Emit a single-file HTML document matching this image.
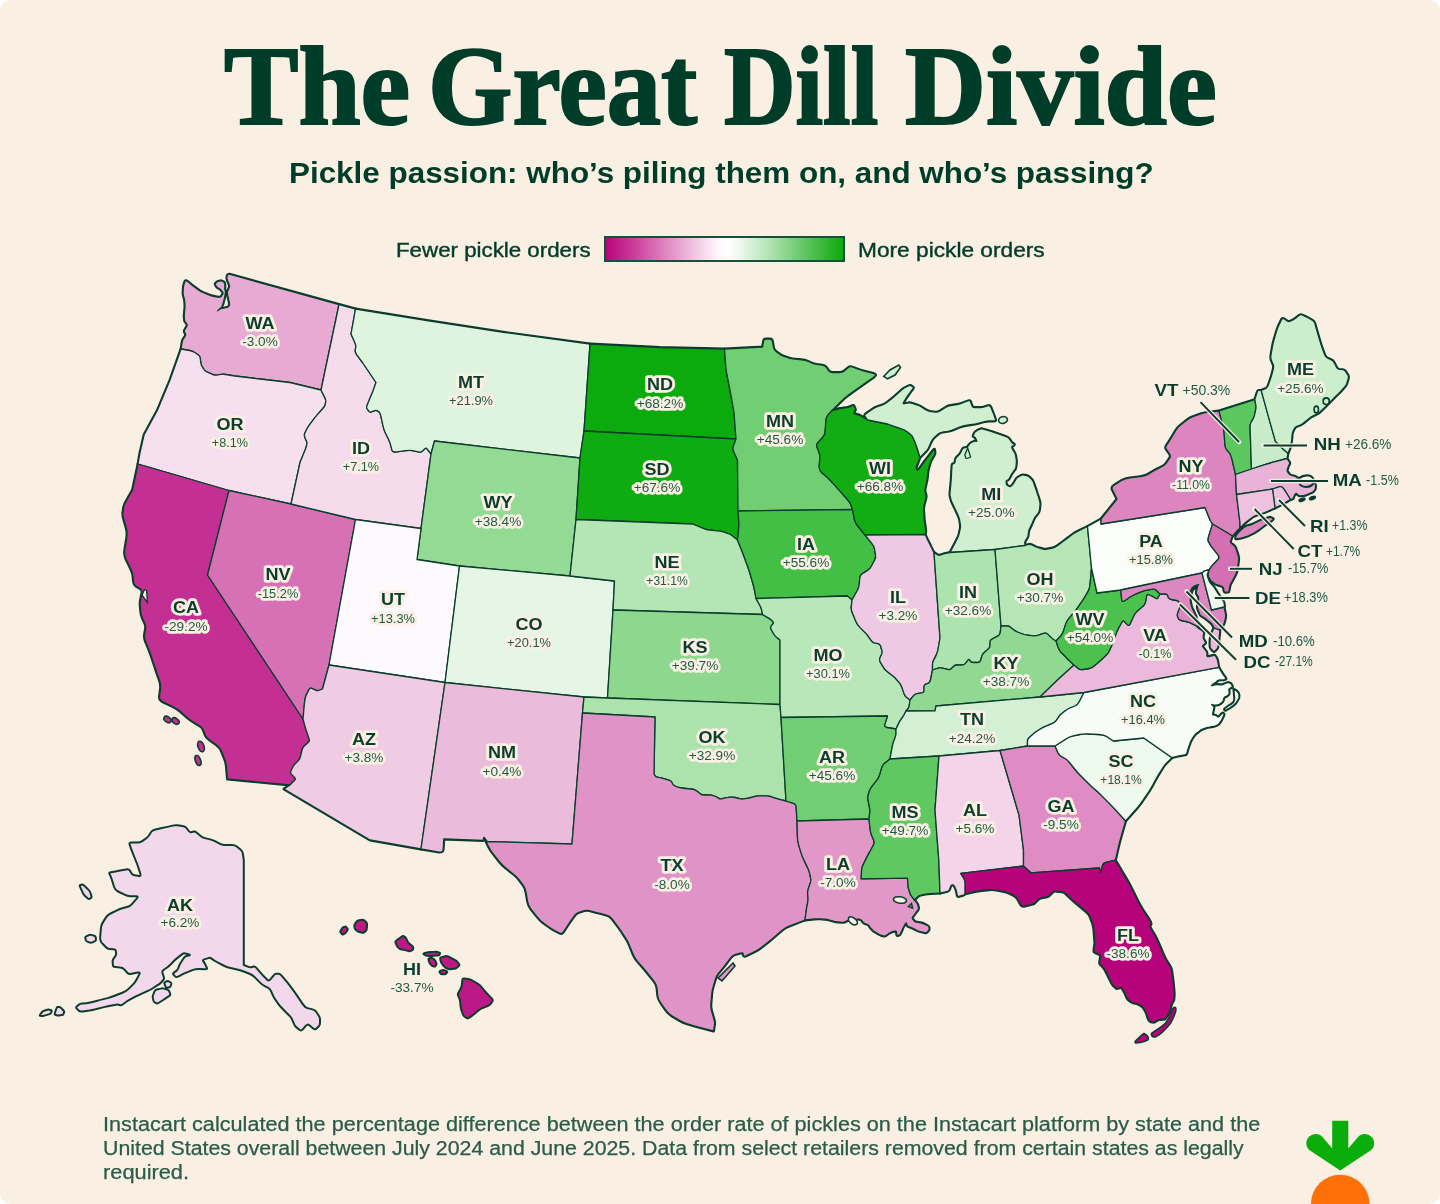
<!DOCTYPE html>
<html lang="en"><head><meta charset="utf-8"><title>The Great Dill Divide</title>
<style>
html,body{margin:0;padding:0;background:#fff;}
body{width:1440px;height:1204px;overflow:hidden;font-family:"Liberation Sans",Arial,Helvetica,sans-serif;}
.card{position:relative;width:1440px;height:1204px;background:#f9f0e3;border-radius:11px;overflow:hidden;color:#0b3d2d;}
.map{position:absolute;left:0;top:0;}
.t{position:absolute;white-space:nowrap;transform-origin:0 0;margin:0;}
h1.t{left:0;top:29.2px;width:1440px;height:113px;font-family:"Liberation Serif","Times New Roman",serif;font-weight:700;
 font-size:113px;line-height:113px;color:#003d29;-webkit-text-stroke:2.2px #003d29;}
h1.t span{position:absolute;top:0;white-space:pre;transform-origin:0 0;}
.sub{left:288.6px;top:155px;font-weight:700;font-size:30px;line-height:36px;color:#003d29;transform:scaleX(1.0465);}
.leg{top:238.2px;font-size:20px;line-height:24px;font-weight:400;color:#003d29;-webkit-text-stroke:0.4px #003d29;transform:scaleX(1.115);}
.bar{position:absolute;left:604.2px;top:236.4px;width:237.2px;height:21.2px;border:2px solid #14503a;
 background:linear-gradient(90deg,#b8057c 0%,#cb3f9b 12%,#e7a5d2 31%,#fdf6fb 47%,#ffffff 51%,#f3fbf3 55%,#b7e5b7 68%,#4fbf50 87%,#0bab0d 100%);}
.foot{left:102.5px;font-size:20px;line-height:24px;color:#2b5c49;-webkit-text-stroke:0.25px #2b5c49;}
.lab text{font-family:"Liberation Sans",Arial,sans-serif;fill:#0b3d2d;}
.lab .ab{font-weight:700;font-size:16.4px;}
.lab .va{font-weight:400;font-size:13.6px;fill:#1f5a45;}
.lab .va2{font-weight:400;font-size:14px;fill:#1f5a45;}
</style></head><body>
<div class="card">
<svg class="map" width="1440" height="1204" viewBox="0 0 1440 1204">
<g fill="#0b3d2d" stroke="#0b3d2d" stroke-width="2.9" stroke-linejoin="round">
<path d="M181.0,349.0L182.1,342.2Q182.5,340.0 183.3,338.8L185.2,336.2Q186.0,335.0 185.5,334.0L184.5,332.0Q184.0,331.0 184.8,329.6L186.7,326.4Q187.5,325.0 186.8,323.9L185.1,321.6Q184.4,320.5 184.4,319.2L184.2,316.3Q184.2,315.0 184.4,313.1L184.8,308.9Q185.0,307.0 184.9,305.4L184.8,302.1Q184.7,300.5 184.3,298.9L183.4,295.6Q183.0,294.0 183.1,292.3L183.2,288.7Q183.3,287.0 183.7,285.4L184.6,282.1Q185.0,280.5 185.5,280.6L186.7,281.0Q187.2,281.1 188.7,282.3L191.8,284.9Q193.3,286.1 195.2,287.4L199.2,290.4Q201.1,291.7 203.0,292.5L207.0,294.2Q208.9,295.0 210.6,295.5L214.4,296.5Q216.1,297.0 217.2,297.0L219.5,297.2Q220.6,297.2 221.0,296.7L221.8,295.5Q222.2,295.0 222.5,294.5L223.0,293.3Q223.3,292.8 222.5,291.9L220.8,289.8Q220.0,288.9 219.2,288.5L217.5,287.6Q216.7,287.2 216.3,286.4L215.4,284.7Q215.0,283.9 215.5,283.4L216.7,282.2Q217.2,281.7 218.1,281.4L220.2,280.9Q221.1,280.6 221.8,281.0L223.5,281.8Q224.2,282.2 224.4,282.9L224.8,284.3Q225.0,285.0 224.9,285.9L224.8,288.0Q224.7,288.9 224.9,289.6L225.4,291.0Q225.6,291.7 225.4,293.0L224.9,295.9Q224.7,297.2 224.4,298.5L223.6,301.5Q223.3,302.8 222.9,303.9L222.1,306.1Q221.7,307.2 220.6,308.1L218.3,310.2Q217.2,311.1 217.9,310.6L219.3,309.4Q220.0,308.9 220.8,308.7L222.5,308.3Q223.3,308.1 224.4,307.9L226.7,307.4Q227.8,307.2 228.3,306.7L229.2,305.5Q229.7,305.0 229.5,303.9L229.1,301.7Q228.9,300.6 228.6,299.5L228.1,297.2Q227.8,296.1 227.7,295.2L227.3,293.1Q227.2,292.2 227.6,291.3L228.5,289.2Q228.9,288.3 229.1,287.7L229.5,286.2Q229.7,285.6 229.2,284.7L228.3,282.6Q227.8,281.7 227.5,280.8L227.0,278.7Q226.7,277.8 226.9,277.1L227.3,275.4Q227.5,274.7 228.0,274.6L229.4,274.2L339.0,304.5L321.0,390.0L290.0,382.5L260.0,379.0L235.0,376.0L225.5,374.5Q222.5,374.0 220.7,374.4L216.8,375.1Q215.0,375.5 212.6,374.4L207.4,372.1Q205.0,371.0 204.0,369.6L202.0,366.4Q201.0,365.0 200.8,362.8L200.2,358.2Q200.0,356.0 198.2,354.8L194.3,352.2Q192.5,351.0 189.7,350.5Z"/>
<path d="M181.0,349.0L170.0,380.0L157.5,410.0L144.0,435.0L141.0,448.3Q140.0,452.5 139.5,455.3L138.0,464.0L229.0,490.5L291.0,504.0L300.0,462.5L305.7,448.4Q307.5,444.0 306.7,441.8L304.8,437.2Q304.0,435.0 304.8,433.2L306.7,429.3Q307.5,427.5 309.3,425.1L313.2,419.9Q315.0,417.5 317.4,414.7L322.6,408.8Q325.0,406.0 325.2,404.6L325.8,401.4Q326.0,400.0 324.8,397.6L321.0,390.0L290.0,382.5L260.0,379.0L235.0,376.0L225.5,374.5Q222.5,374.0 220.7,374.4L216.8,375.1Q215.0,375.5 212.6,374.4L207.4,372.1Q205.0,371.0 204.0,369.6L202.0,366.4Q201.0,365.0 200.8,362.8L200.2,358.2Q200.0,356.0 198.2,354.8L194.3,352.2Q192.5,351.0 189.7,350.5Z"/>
<path d="M138.0,464.0L229.0,490.5L207.5,575.0L303.0,719.0L305.3,727.4Q306.0,730.0 307.0,732.6L309.0,738.4Q310.0,741.0 308.2,742.6L304.3,745.9Q302.5,747.5 301.9,750.3L300.6,756.2Q300.0,759.0 298.6,760.4L295.4,763.6Q294.0,765.0 293.0,766.8L291.0,770.7Q290.0,772.5 291.4,774.1L294.6,777.4Q296.0,779.0 294.6,780.4L290.0,785.0L227.5,779.0L226.4,766.5Q226.0,762.5 224.6,758.9L221.4,751.1Q220.0,747.5 216.6,745.1L209.4,739.9Q206.0,737.5 205.2,735.1L203.3,729.9Q202.5,727.5 199.5,725.7L193.0,721.8Q190.0,720.0 187.0,717.4L180.5,711.6Q177.5,709.0 173.1,706.8L163.4,702.2Q159.0,700.0 159.5,696.4L160.5,688.6Q161.0,685.0 159.6,680.8L156.4,671.7Q155.0,667.5 153.8,663.9L151.2,656.1Q150.0,652.5 148.6,648.9L145.4,641.1Q144.0,637.5 144.5,634.7L145.5,628.8Q146.0,626.0 144.8,623.4L142.2,617.6Q141.0,615.0 140.8,612.0L140.2,605.5Q140.0,602.5 140.6,599.5L141.9,593.0Q142.5,590.0 140.5,588.8L136.0,586.2Q134.0,585.0 133.6,582.0L132.9,575.5Q132.5,572.5 130.5,568.3L126.0,559.2Q124.0,555.0 124.8,549.6L126.7,537.9Q127.5,532.5 126.3,528.3L123.7,519.2Q122.5,515.0 122.9,512.6L123.6,507.4Q124.0,505.0 126.0,501.4L132.5,490.0Z"/>
<path d="M229.0,490.5L291.0,504.0L355.5,519.5L329.0,665.0L322.5,689.0L318.7,690.5Q317.5,691.0 315.7,690.2L311.8,688.3Q310.0,687.5 308.8,689.9L306.2,695.1Q305.0,697.5 304.5,702.7L303.0,719.0L207.5,575.0Z"/>
<path d="M339.0,304.5L355.5,309.0L351.0,334.0L354.8,342.4Q356.0,345.0 355.8,346.8L355.2,350.7Q355.0,352.5 356.8,354.9L362.5,362.5L376.0,382.5L373.3,390.1Q372.5,392.5 370.9,396.1L367.6,403.9Q366.0,407.5 367.0,408.7L369.0,411.3Q370.0,412.5 371.4,411.9L374.6,410.6Q376.0,410.0 377.0,410.6L379.0,411.9Q380.0,412.5 381.0,416.7L383.0,425.8Q384.0,430.0 385.4,433.0L388.6,439.5Q390.0,442.5 390.6,444.9L391.9,450.1Q392.5,452.5 396.7,451.9L405.8,450.6Q410.0,450.0 412.6,450.6L418.4,451.9Q421.0,452.5 422.2,451.3L424.8,448.7Q426.0,447.5 427.2,449.1L431.0,454.0L421.0,528.5L355.5,519.5L291.0,504.0L300.0,462.5L305.7,448.4Q307.5,444.0 306.7,441.8L304.8,437.2Q304.0,435.0 304.8,433.2L306.7,429.3Q307.5,427.5 309.3,425.1L313.2,419.9Q315.0,417.5 317.4,414.7L322.6,408.8Q325.0,406.0 325.2,404.6L325.8,401.4Q326.0,400.0 324.8,397.6L321.0,390.0Z"/>
<path d="M355.5,309.0L430.0,321.0L505.0,332.5L590.0,344.0L584.0,431.0L580.0,458.0L434.5,441.0L431.0,454.0L427.2,449.1Q426.0,447.5 424.8,448.7L422.2,451.3Q421.0,452.5 418.4,451.9L412.6,450.6Q410.0,450.0 405.8,450.6L396.7,451.9Q392.5,452.5 391.9,450.1L390.6,444.9Q390.0,442.5 388.6,439.5L385.4,433.0Q384.0,430.0 383.0,425.8L381.0,416.7Q380.0,412.5 379.0,411.9L377.0,410.6Q376.0,410.0 374.6,410.6L371.4,411.9Q370.0,412.5 369.0,411.3L367.0,408.7Q366.0,407.5 367.6,403.9L370.9,396.1Q372.5,392.5 373.3,390.1L376.0,382.5L362.5,362.5L356.8,354.9Q355.0,352.5 355.2,350.7L355.8,346.8Q356.0,345.0 354.8,342.4L351.0,334.0Z"/>
<path d="M434.5,441.0L580.0,458.0L576.0,519.5L570.0,576.0L459.5,566.0L417.0,559.5L421.0,528.5L431.0,454.0Z"/>
<path d="M355.5,519.5L421.0,528.5L417.0,559.5L459.5,566.0L445.0,682.5L329.0,665.0Z"/>
<path d="M459.5,566.0L570.0,576.0L614.5,581.0L613.0,610.0L607.5,698.0L584.0,697.0L445.0,682.5Z"/>
<path d="M329.0,665.0L445.0,682.5L421.0,849.0L370.0,840.0L284.0,789.0L290.0,785.0L294.6,780.4Q296.0,779.0 294.6,777.4L291.4,774.1Q290.0,772.5 291.0,770.7L293.0,766.8Q294.0,765.0 295.4,763.6L298.6,760.4Q300.0,759.0 300.6,756.2L301.9,750.3Q302.5,747.5 304.3,745.9L308.2,742.6Q310.0,741.0 309.0,738.4L307.0,732.6Q306.0,730.0 305.3,727.4L303.0,719.0L304.5,702.7Q305.0,697.5 306.2,695.1L308.8,689.9Q310.0,687.5 311.8,688.3L315.7,690.2Q317.5,691.0 318.7,690.5L322.5,689.0Z"/>
<path d="M445.0,682.5L584.0,697.0L582.5,713.0L572.0,844.0L487.0,841.5L484.0,837.5L483.0,840.5L443.8,839.0L443.2,849.5Q443.0,852.8 437.7,851.9L421.0,849.0Z"/>
<path d="M590.0,344.0L660.0,347.5L724.5,349.0L725.6,365.0Q726.0,370.0 727.0,374.8L729.0,385.2Q730.0,390.0 731.0,395.4L734.0,412.5L736.0,439.0L584.0,431.0Z"/>
<path d="M584.0,431.0L736.0,439.0L733.3,446.6Q732.5,449.0 733.7,451.6L737.5,460.0L738.0,511.0L738.8,521.6Q739.0,525.0 738.6,528.6L737.5,540.0L731.8,535.4Q730.0,534.0 727.6,533.3L722.4,531.7Q720.0,531.0 717.0,530.8L710.5,530.2Q707.5,530.0 703.9,528.6L692.5,524.0L576.0,519.5L580.0,458.0Z"/>
<path d="M576.0,519.5L692.5,524.0L703.9,528.6Q707.5,530.0 710.5,530.2L717.0,530.8Q720.0,531.0 722.4,531.7L727.6,533.3Q730.0,534.0 731.8,535.4L737.5,540.0L741.3,549.5Q742.5,552.5 744.1,556.7L747.4,565.8Q749.0,570.0 750.2,574.2L752.8,583.3Q754.0,587.5 754.5,590.1L756.0,598.5L759.8,605.3Q761.0,607.5 761.4,609.2L762.5,614.5L613.0,610.0L614.5,581.0L570.0,576.0Z"/>
<path d="M613.0,610.0L762.5,614.5L768.2,617.9Q770.0,619.0 771.0,619.8L773.0,621.7Q774.0,622.5 773.0,623.7L771.0,626.3Q770.0,627.5 771.2,629.5L773.8,634.0Q775.0,636.0 776.2,637.0L780.0,640.0L780.0,704.5L607.5,698.0Z"/>
<path d="M607.5,698.0L780.0,704.5L781.0,717.5L786.0,801.0L778.4,799.1Q776.0,798.5 774.2,797.9L770.1,796.4Q768.3,795.8 765.5,795.8L759.5,795.8Q756.7,795.8 754.9,796.3L750.8,797.5Q749.0,798.0 747.2,798.3L743.5,798.9Q741.7,799.2 739.6,798.7L735.1,797.5Q733.0,797.0 731.5,797.1L728.2,797.4Q726.7,797.5 725.1,797.9L721.6,798.8Q720.0,799.2 718.8,798.4L716.2,796.8Q715.0,796.0 713.8,795.8L711.2,795.2Q710.0,795.0 708.0,795.0L703.7,795.0Q701.7,795.0 700.6,794.0L698.1,792.0Q697.0,791.0 696.1,790.6L694.2,789.6Q693.3,789.2 690.9,789.0L685.7,788.5Q683.3,788.3 681.8,788.0L678.5,787.3Q677.0,787.0 676.1,786.5L674.2,785.5Q673.3,785.0 672.7,784.0L671.6,782.0Q671.0,781.0 670.4,780.8L668.9,780.2Q668.3,780.0 666.3,779.4L662.0,778.1Q660.0,777.5 659.0,777.4L657.0,777.1Q656.0,777.0 655.5,776.3L654.0,774.0L655.0,717.0L582.5,713.0L584.0,697.0Z"/>
<path d="M582.5,713.0L655.0,717.0L654.0,774.0L655.5,776.3Q656.0,777.0 657.0,777.1L659.0,777.4Q660.0,777.5 662.0,778.1L666.3,779.4Q668.3,780.0 668.9,780.2L670.4,780.8Q671.0,781.0 671.6,782.0L672.7,784.0Q673.3,785.0 674.2,785.5L676.1,786.5Q677.0,787.0 678.5,787.3L681.8,788.0Q683.3,788.3 685.7,788.5L690.9,789.0Q693.3,789.2 694.2,789.6L696.1,790.6Q697.0,791.0 698.1,792.0L700.6,794.0Q701.7,795.0 703.7,795.0L708.0,795.0Q710.0,795.0 711.2,795.2L713.8,795.8Q715.0,796.0 716.2,796.8L718.8,798.4Q720.0,799.2 721.6,798.8L725.1,797.9Q726.7,797.5 728.2,797.4L731.5,797.1Q733.0,797.0 735.1,797.5L739.6,798.7Q741.7,799.2 743.5,798.9L747.2,798.3Q749.0,798.0 750.8,797.5L754.9,796.3Q756.7,795.8 759.5,795.8L765.5,795.8Q768.3,795.8 770.1,796.4L774.2,797.9Q776.0,798.5 778.4,799.1L786.0,801.0L793.6,803.3Q796.0,804.0 796.2,808.1L797.0,821.0L797.4,836.2Q797.5,841.0 798.6,844.6L800.9,852.4Q802.0,856.0 803.6,859.4L807.1,866.6Q808.8,870.0 809.4,872.4L810.6,877.6Q811.2,880.0 810.4,882.7L808.4,888.5Q807.5,891.2 807.6,893.4L808.0,897.9Q808.1,900.0 807.7,902.4L806.7,907.6Q806.2,910.0 806.0,912.4L805.0,920.0L789.8,925.9Q785.0,927.7 782.2,930.2L776.1,935.5Q773.3,938.0 769.8,940.8L762.2,946.8Q758.8,949.6 755.2,951.4L747.5,955.2Q744.0,957.0 743.7,955.9L743.0,953.6Q742.7,952.5 740.3,953.2L734.9,954.7Q732.5,955.4 730.4,958.2L725.9,964.2Q723.8,967.0 722.0,969.1L718.2,973.7Q716.5,975.8 715.4,979.3L713.1,986.9Q712.0,990.4 711.7,994.6L710.9,1003.8Q710.6,1008.0 711.7,1011.5L713.9,1019.0Q715.0,1022.5 714.6,1024.5L713.5,1031.0L701.3,1027.9Q697.5,1026.9 694.0,1025.8L686.5,1023.6Q683.0,1022.5 679.5,1020.4L671.8,1015.9Q668.3,1013.8 665.8,1010.2L660.5,1002.5Q658.0,999.0 657.7,995.5L657.0,988.1Q656.7,984.6 653.9,981.1L647.8,973.5Q645.0,970.0 642.6,967.2L637.2,961.1Q634.8,958.3 633.0,954.1L629.3,945.0Q627.5,940.8 625.4,937.7L620.9,930.8Q618.8,927.7 616.6,924.9L612.1,918.8Q610.0,916.0 607.2,915.3L601.1,913.7Q598.3,913.0 595.5,912.3L589.5,910.7Q586.7,910.0 584.3,910.7L578.9,912.3Q576.5,913.0 574.7,915.5L570.8,920.8Q569.0,923.3 567.3,926.0L563.6,931.7Q561.9,934.4 559.5,933.1L554.1,930.3Q551.7,929.0 548.9,926.9L542.8,922.5Q540.0,920.4 537.2,916.9L531.1,909.3Q528.3,905.8 527.6,901.6L526.1,892.5Q525.4,888.3 523.3,885.5L518.8,879.5Q516.7,876.7 513.2,873.9L505.5,867.8Q502.0,865.0 499.2,861.5L493.2,853.9Q490.4,850.4 488.9,847.3L484.0,837.5L487.0,841.5L572.0,844.0Z"/>
<path d="M724.5,349.0L762.5,347.0L763.6,340.9Q764.0,339.0 765.9,339.0L770.1,339.0Q772.0,339.0 772.5,341.6L773.5,347.4Q774.0,350.0 776.0,351.4L780.5,354.6Q782.5,356.0 784.9,356.7L790.1,358.3Q792.5,359.0 795.5,359.2L802.0,359.8Q805.0,360.0 807.2,361.0L811.8,363.0Q814.0,364.0 816.6,364.4L822.4,365.1Q825.0,365.5 826.2,367.2L828.8,370.8Q830.0,372.5 833.0,372.5L839.5,372.5Q842.5,372.5 844.3,370.9L848.2,367.6Q850.0,366.0 852.4,367.0L857.6,369.0Q860.0,370.0 864.2,371.1L873.3,373.4Q877.5,374.5 873.9,377.0L866.1,382.5Q862.5,385.0 858.3,388.0L849.2,394.5Q845.0,397.5 841.9,400.6L832.0,410.5L827.4,415.8Q826.0,417.5 825.8,421.7L825.2,430.8Q825.0,435.0 822.8,437.3L818.2,442.2Q816.0,444.5 817.0,447.0L819.0,452.5Q820.0,455.0 819.8,458.6L819.2,466.4Q819.0,470.0 821.6,472.4L827.4,477.6Q830.0,480.0 833.0,483.4L839.5,490.6Q842.5,494.0 844.3,496.0L848.2,500.5Q850.0,502.5 850.6,504.2L852.5,509.5L738.0,511.0L737.5,460.0L733.7,451.6Q732.5,449.0 733.3,446.6L736.0,439.0L734.0,412.5L731.0,395.4Q730.0,390.0 729.0,385.2L727.0,374.8Q726.0,370.0 725.6,365.0Z"/>
<path d="M738.0,511.0L852.5,509.5L854.4,519.4Q855.0,522.5 857.4,525.5L865.0,535.0L871.8,543.4Q874.0,546.0 874.5,548.8L875.5,554.7Q876.0,557.5 874.6,560.3L871.4,566.2Q870.0,569.0 867.6,570.4L862.4,573.6Q860.0,575.0 859.8,578.0L859.2,584.5Q859.0,587.5 857.3,590.5L852.0,600.0L847.5,596.0L756.0,598.5L754.5,590.1Q754.0,587.5 752.8,583.3L750.2,574.2Q749.0,570.0 747.4,565.8L744.1,556.7Q742.5,552.5 741.3,549.5L737.5,540.0L738.6,528.6Q739.0,525.0 738.8,521.6Z"/>
<path d="M756.0,598.5L847.5,596.0L852.0,600.0L851.2,607.6Q851.0,610.0 852.6,613.6L855.9,621.4Q857.5,625.0 859.9,627.4L865.1,632.6Q867.5,635.0 868.7,636.8L871.3,640.7Q872.5,642.5 874.3,642.9L878.2,643.6Q880.0,644.0 880.6,646.0L881.9,650.5Q882.5,652.5 881.7,654.3L879.8,658.2Q879.0,660.0 880.4,662.4L883.6,667.6Q885.0,670.0 887.4,671.8L892.6,675.7Q895.0,677.5 896.4,679.3L899.6,683.2Q901.0,685.0 902.0,687.6L904.0,693.4Q905.0,696.0 906.2,697.0L910.0,700.0L909.2,705.7Q909.0,707.5 908.3,708.3L906.0,711.0L904.5,714.0Q904.0,715.0 902.8,716.8L900.2,720.7Q899.0,722.5 898.3,724.1L896.0,729.0L886.9,727.5Q884.0,727.0 884.8,724.4L887.5,716.0L781.0,717.5L780.0,704.5L780.0,640.0L776.2,637.0Q775.0,636.0 773.8,634.0L771.2,629.5Q770.0,627.5 771.0,626.3L773.0,623.7Q774.0,622.5 773.0,621.7L771.0,619.8Q770.0,619.0 768.2,617.9L762.5,614.5L761.4,609.2Q761.0,607.5 759.8,605.3Z"/>
<path d="M781.0,717.5L887.5,716.0L884.8,724.4Q884.0,727.0 886.9,727.5L896.0,729.0L896.0,733.6Q896.0,735.0 895.2,737.4L893.3,742.6Q892.5,745.0 891.9,748.4L890.0,759.0L884.3,763.6Q882.5,765.0 881.7,768.0L879.8,774.5Q879.0,777.5 876.8,780.3L872.2,786.2Q870.0,789.0 869.4,791.0L868.1,795.5Q867.5,797.5 868.1,800.5L869.4,807.0Q870.0,810.0 869.8,812.2L869.0,819.0L797.0,821.0L796.2,808.1Q796.0,804.0 793.6,803.3L786.0,801.0Z"/>
<path d="M797.0,821.0L869.0,819.0L870.1,829.3Q870.4,832.5 871.5,834.9L873.7,840.3Q874.8,842.7 873.0,845.8L869.3,852.7Q867.5,855.8 866.1,858.6L863.1,864.7Q861.7,867.5 861.6,870.2L861.2,878.8L907.5,878.1L908.0,885.2Q908.1,887.5 908.7,889.3L910.0,893.2Q910.6,895.0 911.5,896.2L914.4,900.0L916.8,902.9Q917.5,903.8 917.8,905.0L918.5,907.5Q918.8,908.8 917.9,910.0L915.9,912.5Q915.0,913.8 914.3,914.8L912.6,917.1Q911.9,918.1 912.6,919.0L914.3,921.0Q915.0,921.9 916.8,922.2L920.7,922.8Q922.5,923.1 924.0,923.9L927.2,925.5Q928.8,926.2 928.9,927.0L929.2,928.6Q929.4,929.4 928.6,930.3L927.0,932.2Q926.2,933.1 924.5,932.7L920.5,931.7Q918.8,931.2 917.2,930.5L914.0,928.9Q912.5,928.1 911.3,927.7L908.7,926.7Q907.5,926.2 907.2,925.4L906.5,923.4Q906.2,922.5 905.5,923.7L903.9,926.3Q903.1,927.5 902.4,929.3L900.7,933.2Q900.0,935.0 899.3,935.1L897.6,935.5Q896.9,935.6 896.7,934.4L896.4,931.8Q896.2,930.6 894.8,931.1L891.5,932.0Q890.0,932.5 888.8,933.4L886.2,935.4Q885.0,936.2 883.8,936.0L881.2,935.3Q880.0,935.0 878.5,934.1L875.2,932.1Q873.8,931.2 872.9,930.4L870.9,928.4Q870.0,927.5 869.7,926.9L869.0,925.6Q868.8,925.0 867.5,924.5L865.0,923.6Q863.8,923.1 863.1,922.4L861.9,920.7Q861.2,920.0 860.4,919.7L858.4,919.0Q857.5,918.8 856.6,919.5L854.6,921.1Q853.8,921.9 852.5,921.4L850.0,920.5Q848.8,920.0 847.5,920.6L845.0,921.9Q843.8,922.5 842.0,922.4L838.0,922.0Q836.2,921.9 834.1,921.3L829.6,920.0Q827.5,919.4 825.1,919.2L819.9,918.9Q817.5,918.8 814.5,919.0L805.0,920.0L806.0,912.4Q806.2,910.0 806.7,907.6L807.7,902.4Q808.1,900.0 808.0,897.9L807.6,893.4Q807.5,891.2 808.4,888.5L810.4,882.7Q811.2,880.0 810.6,877.6L809.4,872.4Q808.8,870.0 807.1,866.6L803.6,859.4Q802.0,856.0 800.9,852.4L798.6,844.6Q797.5,841.0 797.4,836.2Z"/>
<path d="M832.0,410.5L838.1,409.0Q840.0,408.5 842.0,408.3L846.3,407.7Q848.3,407.5 849.5,406.9L852.3,405.6Q853.5,405.0 854.0,406.1L855.1,408.5Q855.6,409.6 855.1,410.5L854.0,412.6Q853.5,413.5 854.8,413.8L857.5,414.5Q858.8,414.8 860.9,416.0L867.5,420.0L887.5,424.0L900.8,428.6Q905.0,430.0 906.8,431.4L910.7,434.6Q912.5,436.0 913.3,438.2L915.2,442.8Q916.0,445.0 917.0,448.0L920.0,457.5L917.0,465.1Q916.0,467.5 916.4,468.3L917.1,470.2Q917.5,471.0 919.9,467.8L925.1,460.7Q927.5,457.5 929.2,455.3L932.8,450.7Q934.5,448.5 934.6,449.7L935.0,452.5Q935.1,453.7 934.1,455.4L932.0,459.0Q931.0,460.7 930.3,462.9L928.8,467.8Q928.1,470.0 927.8,472.5L927.3,478.0Q927.0,480.5 926.4,482.7L925.3,487.6Q924.7,489.8 925.1,491.5L926.0,495.0Q926.4,496.7 925.7,499.2L924.2,504.7Q923.5,507.2 923.6,510.0L924.0,516.0Q924.1,518.8 924.5,521.6L925.4,527.7Q925.8,530.5 925.7,531.5L925.2,534.5L865.0,535.0L857.4,525.5Q855.0,522.5 854.4,519.4L852.5,509.5L850.6,504.2Q850.0,502.5 848.2,500.5L844.3,496.0Q842.5,494.0 839.5,490.6L833.0,483.4Q830.0,480.0 827.4,477.6L821.6,472.4Q819.0,470.0 819.2,466.4L819.8,458.6Q820.0,455.0 819.0,452.5L817.0,447.0Q816.0,444.5 818.2,442.2L822.8,437.3Q825.0,435.0 825.2,430.8L825.8,421.7Q826.0,417.5 827.4,415.8Z"/>
<path d="M865.0,535.0L925.2,534.5L926.6,537.6Q927.0,538.6 927.8,540.3L929.7,543.9Q930.5,545.6 931.3,547.3L934.0,552.6L940.0,638.0L938.1,649.0Q937.5,652.5 936.3,654.9L933.7,660.1Q932.5,662.5 932.5,664.3L932.5,670.0L930.6,679.5Q930.0,682.5 928.6,683.1L925.4,684.4Q924.0,685.0 924.0,686.8L924.0,690.7Q924.0,692.5 921.8,692.9L917.2,693.6Q915.0,694.0 913.8,695.4L910.0,700.0L906.2,697.0Q905.0,696.0 904.0,693.4L902.0,687.6Q901.0,685.0 899.6,683.2L896.4,679.3Q895.0,677.5 892.6,675.7L887.4,671.8Q885.0,670.0 883.6,667.6L880.4,662.4Q879.0,660.0 879.8,658.2L881.7,654.3Q882.5,652.5 881.9,650.5L880.6,646.0Q880.0,644.0 878.2,643.6L874.3,642.9Q872.5,642.5 871.3,640.7L868.7,636.8Q867.5,635.0 865.1,632.6L859.9,627.4Q857.5,625.0 855.9,621.4L852.6,613.6Q851.0,610.0 851.2,607.6L852.0,600.0L857.3,590.5Q859.0,587.5 859.2,584.5L859.8,578.0Q860.0,575.0 862.4,573.6L867.6,570.4Q870.0,569.0 871.4,566.2L874.6,560.3Q876.0,557.5 875.5,554.7L874.5,548.8Q874.0,546.0 871.8,543.4Z"/>
<path d="M981.6,428.7L987.8,430.4Q989.8,431.0 992.0,431.7L996.9,433.3Q999.1,434.0 1001.3,434.8L1006.2,436.6Q1008.4,437.4 1009.2,438.7L1011.1,441.4Q1011.9,442.7 1012.6,443.1L1014.1,444.0Q1014.8,444.4 1014.0,445.1L1012.1,446.6Q1011.3,447.3 1012.3,448.8L1014.3,452.2Q1015.3,453.7 1015.6,455.4L1016.2,459.0Q1016.5,460.7 1016.4,462.5L1016.0,466.5Q1015.9,468.3 1014.9,469.5L1012.9,472.3Q1011.9,473.5 1011.2,474.9L1009.7,477.9Q1009.0,479.3 1008.3,479.7L1006.7,480.6Q1006.0,481.0 1006.1,482.0L1006.5,484.1Q1006.6,485.1 1007.4,485.5L1009.3,486.5Q1010.1,486.9 1010.8,486.3L1012.3,485.1Q1013.0,484.5 1013.8,483.0L1015.7,479.6Q1016.5,478.1 1017.9,477.3L1020.9,475.5Q1022.3,474.7 1023.7,475.0L1026.7,475.5Q1028.1,475.8 1029.2,476.9L1031.7,479.4Q1032.8,480.5 1033.5,482.4L1035.0,486.7Q1035.7,488.6 1036.3,490.3L1037.4,493.9Q1038.0,495.6 1038.6,497.4L1039.7,501.3Q1040.3,503.1 1040.0,505.2L1039.5,509.8Q1039.2,511.9 1038.1,513.3L1035.6,516.3Q1034.5,517.7 1033.8,519.4L1032.3,523.0Q1031.6,524.7 1030.9,526.1L1029.4,529.1Q1028.7,530.5 1028.6,531.9L1028.2,534.9Q1028.1,536.3 1027.3,537.7L1025.5,540.7Q1024.7,542.1 1024.8,542.9L1025.0,545.5L995.0,549.5L950.0,552.5L953.7,545.5Q954.9,543.3 955.7,541.6L957.6,538.0Q958.4,536.3 959.0,534.1L960.1,529.2Q960.7,527.0 960.4,525.0L959.8,520.8Q959.5,518.8 958.7,516.9L956.8,512.6Q956.0,510.7 954.9,508.5L952.5,503.6Q951.4,501.4 951.0,499.7L950.1,496.1Q949.7,494.4 950.0,492.2L950.5,487.3Q950.8,485.1 950.9,482.9L951.3,478.0Q951.4,475.8 951.5,473.0L951.9,467.0Q952.0,464.2 952.7,463.9L954.2,463.3Q954.9,463.0 955.0,461.9L955.4,459.5Q955.5,458.4 956.6,457.3L959.0,454.8Q960.1,453.7 960.8,452.3L962.3,449.3Q963.0,447.9 964.0,447.8L966.1,447.4Q967.1,447.3 967.8,446.3L969.3,444.3Q970.0,443.3 971.1,442.7L973.6,441.5Q974.7,440.9 975.3,441.0L976.4,441.4Q977.0,441.5 976.6,440.5L975.6,438.4Q975.2,437.4 974.6,437.1L973.5,436.6Q972.9,436.3 973.3,435.3L974.3,433.2Q974.7,432.2 975.5,431.6L978.1,429.9ZM867.5,420.0L864.8,416.2Q864.0,415.0 866.6,413.2L872.4,409.3Q875.0,407.5 877.4,406.7L882.6,404.8Q885.0,404.0 887.4,402.1L892.6,397.9Q895.0,396.0 896.8,394.3L900.7,390.7Q902.5,389.0 904.3,388.0L908.2,386.0Q910.0,385.0 911.0,385.6L913.0,386.9Q914.0,387.5 912.4,389.5L909.1,394.0Q907.5,396.0 906.3,397.9L903.7,402.1Q902.5,404.0 904.3,403.6L908.2,402.9Q910.0,402.5 912.4,403.3L917.6,405.2Q920.0,406.0 921.8,407.2L925.7,409.8Q927.5,411.0 929.9,411.4L935.1,412.1Q937.5,412.5 939.9,410.9L945.1,407.6Q947.5,406.0 950.5,405.5L957.0,404.5Q960.0,404.0 962.4,403.0L967.6,401.0Q970.0,400.0 970.6,401.8L971.9,405.7Q972.5,407.5 974.9,407.5L980.1,407.5Q982.5,407.5 984.3,406.9L988.2,405.6Q990.0,405.0 991.0,407.4L993.0,412.6Q994.0,415.0 994.5,416.4L995.5,419.6Q996.0,421.0 994.0,421.0L989.5,421.0Q987.5,421.0 984.5,421.7L978.0,423.3Q975.0,424.0 972.0,424.5L965.5,425.5Q962.5,426.0 959.5,427.2L953.0,429.8Q950.0,431.0 947.6,431.4L942.4,432.1Q940.0,432.5 938.2,434.1L934.3,437.4Q932.5,439.0 931.3,441.6L928.7,447.4Q927.5,450.0 925.7,451.8L920.0,457.5L917.0,448.0Q916.0,445.0 915.2,442.8L913.3,438.2Q912.5,436.0 910.7,434.6L906.8,431.4Q905.0,430.0 900.8,428.6L887.5,424.0Z"/>
<path d="M934.0,552.6L937.5,554.8Q938.6,555.5 940.0,555.1L943.0,554.1Q944.4,553.7 945.7,553.4L950.0,552.5L995.0,549.5L1001.0,626.0L1000.2,632.8Q1000.0,635.0 997.6,636.2L992.4,638.8Q990.0,640.0 990.0,641.8L990.0,645.7Q990.0,647.5 988.2,649.1L984.3,652.4Q982.5,654.0 981.9,656.0L980.6,660.5Q980.0,662.5 977.8,662.5L973.2,662.5Q971.0,662.5 970.5,661.7L969.5,659.8Q969.0,659.0 967.8,660.4L965.2,663.6Q964.0,665.0 961.8,665.0L957.2,665.0Q955.0,665.0 953.8,666.2L951.2,668.8Q950.0,670.0 947.6,669.4L942.4,668.1Q940.0,667.5 938.2,668.1L932.5,670.0L932.5,664.3Q932.5,662.5 933.7,660.1L936.3,654.9Q937.5,652.5 938.1,649.0L940.0,638.0Z"/>
<path d="M995.0,549.5L1025.0,545.5L1028.8,544.4Q1030.0,544.0 1031.8,544.8L1035.7,546.7Q1037.5,547.5 1039.3,548.0L1043.2,549.0Q1045.0,549.5 1047.4,549.0L1052.6,548.0Q1055.0,547.5 1057.4,545.7L1062.6,541.8Q1065.0,540.0 1067.4,538.2L1072.6,534.3Q1075.0,532.5 1078.0,531.1L1087.5,526.5L1091.5,568.0L1090.1,584.0Q1089.6,589.0 1088.0,591.6L1084.6,597.4Q1083.0,600.0 1081.3,602.4L1077.7,607.6Q1076.0,610.0 1073.8,612.6L1068.9,618.4Q1066.7,621.0 1065.7,624.1L1063.5,630.9Q1062.5,634.0 1060.9,635.7L1056.0,641.0L1053.3,639.5Q1052.5,639.0 1050.9,637.4L1047.6,634.1Q1046.0,632.5 1043.6,633.3L1038.4,635.2Q1036.0,636.0 1033.4,635.8L1027.6,635.2Q1025.0,635.0 1022.6,634.0L1017.4,632.0Q1015.0,631.0 1013.6,629.8L1010.4,627.2Q1009.0,626.0 1007.1,626.0L1001.0,626.0Z"/>
<path d="M910.0,700.0L913.8,695.4Q915.0,694.0 917.2,693.6L921.8,692.9Q924.0,692.5 924.0,690.7L924.0,686.8Q924.0,685.0 925.4,684.4L928.6,683.1Q930.0,682.5 930.6,679.5L932.5,670.0L938.2,668.1Q940.0,667.5 942.4,668.1L947.6,669.4Q950.0,670.0 951.2,668.8L953.8,666.2Q955.0,665.0 957.2,665.0L961.8,665.0Q964.0,665.0 965.2,663.6L967.8,660.4Q969.0,659.0 969.5,659.8L970.5,661.7Q971.0,662.5 973.2,662.5L977.8,662.5Q980.0,662.5 980.6,660.5L981.9,656.0Q982.5,654.0 984.3,652.4L988.2,649.1Q990.0,647.5 990.0,645.7L990.0,641.8Q990.0,640.0 992.4,638.8L997.6,636.2Q1000.0,635.0 1000.2,632.8L1001.0,626.0L1007.1,626.0Q1009.0,626.0 1010.4,627.2L1013.6,629.8Q1015.0,631.0 1017.4,632.0L1022.6,634.0Q1025.0,635.0 1027.6,635.2L1033.4,635.8Q1036.0,636.0 1038.4,635.2L1043.6,633.3Q1046.0,632.5 1047.6,634.1L1050.9,637.4Q1052.5,639.0 1053.3,639.5L1056.0,641.0L1058.3,647.8Q1059.0,650.0 1061.0,652.2L1065.5,656.8Q1067.5,659.0 1069.1,660.4L1074.0,665.0L1057.5,680.0L1040.0,697.0L936.0,706.0L935.0,710.8L906.0,711.0L908.3,708.3Q909.0,707.5 909.2,705.7Z"/>
<path d="M906.0,711.0L935.0,710.8L936.0,706.0L1040.0,697.0L1084.0,692.5L1079.1,702.0Q1077.5,705.0 1075.1,706.0L1069.9,708.0Q1067.5,709.0 1065.7,710.4L1061.8,713.6Q1060.0,715.0 1058.8,716.8L1056.2,720.7Q1055.0,722.5 1052.0,723.7L1045.5,726.3Q1042.5,727.5 1040.7,728.7L1036.8,731.3Q1035.0,732.5 1033.2,734.1L1029.3,737.4Q1027.5,739.0 1027.5,740.7L1027.5,746.0L1000.0,750.5L939.0,756.0L890.0,759.0L891.9,748.4Q892.5,745.0 893.3,742.6L895.2,737.4Q896.0,735.0 896.0,733.6L896.0,729.0L898.3,724.1Q899.0,722.5 900.2,720.7L902.8,716.8Q904.0,715.0 904.5,714.0Z"/>
<path d="M890.0,759.0L939.0,756.0L935.0,810.0L938.8,860.0L940.0,893.1L930.5,893.6Q927.5,893.8 925.4,894.2L920.9,895.2Q918.8,895.6 917.7,896.7L914.4,900.0L911.5,896.2Q910.6,895.0 910.0,893.2L908.7,889.3Q908.1,887.5 908.0,885.2L907.5,878.1L861.2,878.8L861.6,870.2Q861.7,867.5 863.1,864.7L866.1,858.6Q867.5,855.8 869.3,852.7L873.0,845.8Q874.8,842.7 873.7,840.3L871.5,834.9Q870.4,832.5 870.1,829.3L869.0,819.0L869.8,812.2Q870.0,810.0 869.4,807.0L868.1,800.5Q867.5,797.5 868.1,795.5L869.4,791.0Q870.0,789.0 872.2,786.2L876.8,780.3Q879.0,777.5 879.8,774.5L881.7,768.0Q882.5,765.0 884.3,763.6Z"/>
<path d="M939.0,756.0L1000.0,750.5L1019.0,815.0L1023.5,850.0L1023.5,866.0L960.8,873.3L964.1,878.8Q965.2,880.6 965.2,883.8L965.2,893.8L964.1,894.7Q963.8,895.0 962.2,895.5L959.0,896.4Q957.5,896.9 957.2,895.2L956.5,891.7Q956.2,890.0 955.6,888.8L954.4,886.2Q953.8,885.0 953.1,885.0L951.9,885.0Q951.2,885.0 950.6,886.5L949.4,889.8Q948.8,891.2 946.6,891.7L940.0,893.1L938.8,860.0L935.0,810.0Z"/>
<path d="M1000.0,750.5L1027.5,746.0L1055.0,746.0L1058.0,752.8Q1059.0,755.0 1061.0,756.2L1065.5,758.8Q1067.5,760.0 1069.9,763.0L1075.1,769.5Q1077.5,772.5 1080.5,775.5L1087.0,782.0Q1090.0,785.0 1092.4,787.2L1097.6,791.8Q1100.0,794.0 1102.9,796.9L1109.1,803.1Q1112.0,806.0 1115.3,809.6L1125.6,821.0L1121.2,836.4Q1119.8,841.2 1118.7,845.8L1115.4,860.2L1106.0,862.3Q1103.0,863.0 1102.5,865.5L1101.3,870.8Q1100.8,873.3 1100.5,872.0L1099.4,868.0L1030.8,872.8L1023.5,866.0L1023.5,850.0L1019.0,815.0Z"/>
<path d="M965.2,893.8L965.2,883.8Q965.2,880.6 964.1,878.8L960.8,873.3L1023.5,866.0L1030.8,872.8L1099.4,868.0L1100.5,872.0Q1100.8,873.3 1101.3,870.8L1102.5,865.5Q1103.0,863.0 1106.0,862.3L1115.4,860.2L1118.7,865.7Q1119.8,867.5 1122.2,871.7L1127.6,880.8Q1130.0,885.0 1132.4,889.9L1137.6,900.5Q1140.0,905.4 1142.8,909.7L1148.8,918.9Q1151.6,923.2 1151.1,924.0L1150.1,925.8Q1149.6,926.6 1151.2,929.2L1154.7,934.9Q1156.2,937.5 1158.3,942.4L1162.9,953.1Q1165.0,958.0 1166.5,960.5L1169.9,965.8Q1171.4,968.3 1171.8,971.3L1172.7,977.8Q1173.1,980.8 1173.4,983.8L1174.0,990.2Q1174.3,993.2 1174.2,994.8L1174.0,998.3Q1173.9,999.9 1173.3,1001.0L1172.0,1003.4Q1171.4,1004.5 1171.0,1006.2L1170.2,1009.8Q1169.8,1011.5 1169.0,1012.9L1167.2,1015.9Q1166.4,1017.3 1166.0,1017.7L1165.2,1018.6Q1164.8,1019.0 1163.2,1019.2L1159.7,1019.6Q1158.1,1019.8 1157.1,1020.4L1154.0,1022.3L1150.8,1021.7Q1149.8,1021.5 1149.3,1020.7L1148.3,1018.9Q1147.8,1018.1 1147.5,1016.9L1146.8,1014.4Q1146.5,1013.2 1145.7,1011.8L1144.0,1008.7Q1143.2,1007.3 1142.0,1006.5L1139.4,1004.8Q1138.2,1004.0 1136.6,1003.6L1133.2,1002.8Q1131.6,1002.4 1130.6,1001.6L1128.4,999.8Q1127.4,999.0 1126.8,997.6L1125.5,994.6Q1124.9,993.2 1124.1,991.8L1122.4,988.8Q1121.6,987.4 1120.4,987.7L1117.8,988.4Q1116.6,988.7 1115.6,987.8L1113.5,985.8Q1112.5,984.9 1111.5,982.9L1109.3,978.6Q1108.3,976.6 1107.3,974.6L1105.2,970.3Q1104.2,968.3 1103.0,967.2L1100.6,964.8Q1099.4,963.8 1099.7,961.6L1100.5,957.1Q1100.8,955.0 1099.0,954.3L1095.3,952.7Q1093.5,952.0 1093.9,949.9L1094.6,945.4Q1095.0,943.3 1094.6,939.1L1093.9,930.0Q1093.5,925.8 1092.4,923.0L1090.1,916.8Q1089.0,914.0 1086.9,912.3L1082.5,908.6Q1080.4,906.9 1078.3,905.1L1073.8,901.4Q1071.7,899.6 1069.9,897.8L1066.2,894.1Q1064.4,892.3 1061.9,891.9L1056.5,891.2Q1054.0,890.8 1052.6,892.2L1049.7,895.3Q1048.3,896.7 1046.2,897.0L1041.7,897.7Q1039.6,898.0 1038.2,899.4L1035.2,902.6Q1033.8,904.0 1030.9,904.7L1024.8,906.2Q1022.0,906.9 1020.6,904.5L1017.6,899.1Q1016.2,896.7 1014.1,895.6L1009.6,893.4Q1007.5,892.3 1004.0,891.6L996.5,890.1Q993.0,889.4 989.5,889.7L981.8,890.5Q978.3,890.8 975.2,891.5Z"/>
<path d="M1055.0,746.0L1065.5,739.2Q1068.8,737.0 1072.2,736.2L1079.6,734.5Q1083.0,733.8 1088.0,734.0L1099.0,734.5Q1104.0,734.8 1106.3,736.3L1113.5,741.0L1143.8,738.0L1172.0,757.7L1166.4,763.2Q1164.6,765.0 1163.0,767.5L1159.6,772.9Q1158.0,775.4 1156.1,778.9L1151.9,786.5Q1150.0,790.0 1147.3,793.9L1141.5,802.4Q1138.8,806.2 1135.6,809.8L1125.6,821.0L1115.3,809.6Q1112.0,806.0 1109.1,803.1L1102.9,796.9Q1100.0,794.0 1097.6,791.8L1092.4,787.2Q1090.0,785.0 1087.0,782.0L1080.5,775.5Q1077.5,772.5 1075.1,769.5L1069.9,763.0Q1067.5,760.0 1065.5,758.8L1061.0,756.2Q1059.0,755.0 1058.0,752.8Z"/>
<path d="M1084.0,692.5L1218.8,667.4L1221.8,672.3Q1222.8,673.9 1223.6,675.1L1225.5,677.7Q1226.3,678.9 1225.7,679.1L1224.4,679.7Q1223.8,679.9 1222.6,679.9L1220.0,679.9Q1218.8,679.9 1217.8,680.6L1215.8,682.2Q1214.8,682.9 1213.8,683.6L1211.8,685.2Q1210.8,685.9 1212.0,685.5L1214.6,684.8Q1215.8,684.4 1217.2,684.5L1220.4,684.8Q1221.8,684.9 1223.2,684.3L1226.4,683.0Q1227.8,682.4 1228.5,682.6L1230.1,683.2Q1230.8,683.4 1231.3,684.2L1232.3,686.1Q1232.8,686.9 1231.8,687.4L1229.8,688.4Q1228.8,688.9 1228.9,690.1L1229.2,692.7Q1229.3,693.9 1228.7,694.5L1227.4,695.8Q1226.8,696.4 1226.2,696.5L1224.9,696.8Q1224.3,696.9 1223.9,698.1L1223.2,700.6Q1222.8,701.8 1221.8,702.5L1219.8,704.1Q1218.8,704.8 1217.7,704.9L1215.4,705.2Q1214.3,705.3 1213.6,705.1L1212.0,704.5Q1211.3,704.3 1212.0,704.9L1213.6,706.2Q1214.3,706.8 1213.8,708.7L1212.8,712.9Q1212.3,714.8 1213.1,714.9L1215.0,715.2Q1215.8,715.3 1216.4,715.8L1217.7,716.8Q1218.3,717.3 1219.4,716.2L1221.7,713.9Q1222.8,712.8 1223.2,713.2L1223.9,713.9Q1224.3,714.3 1223.7,715.6L1222.4,718.5Q1221.8,719.8 1221.1,720.9L1219.5,723.2Q1218.8,724.3 1217.8,724.8L1215.8,725.8Q1214.8,726.3 1213.1,726.5L1209.6,727.1Q1207.9,727.3 1206.2,727.9L1202.6,729.2Q1200.9,729.8 1199.5,731.0L1196.3,733.5Q1194.9,734.7 1193.9,736.1L1191.9,739.3Q1190.9,740.7 1190.3,742.4L1189.0,746.0Q1188.4,747.7 1187.9,749.4L1186.9,753.0Q1186.4,754.7 1184.8,754.9L1181.5,755.5Q1179.9,755.7 1178.0,756.2L1172.0,757.7L1143.8,738.0L1113.5,741.0L1106.3,736.3Q1104.0,734.8 1099.0,734.5L1088.0,734.0Q1083.0,733.8 1079.6,734.5L1072.2,736.2Q1068.8,737.0 1065.5,739.2L1055.0,746.0L1027.5,746.0L1027.5,740.7Q1027.5,739.0 1029.3,737.4L1033.2,734.1Q1035.0,732.5 1036.8,731.3L1040.7,728.7Q1042.5,727.5 1045.5,726.3L1052.0,723.7Q1055.0,722.5 1056.2,720.7L1058.8,716.8Q1060.0,715.0 1061.8,713.6L1065.7,710.4Q1067.5,709.0 1069.9,708.0L1075.1,706.0Q1077.5,705.0 1079.1,702.0Z"/>
<path d="M1040.0,697.0L1057.5,680.0L1074.0,665.0L1078.6,668.8Q1080.0,670.0 1082.8,669.5L1088.9,668.5Q1091.7,668.0 1093.7,666.3L1098.0,662.7Q1100.0,661.0 1101.9,659.2L1106.1,655.3Q1108.0,653.5 1109.1,651.2L1111.4,646.3Q1112.5,644.0 1113.5,641.0L1115.7,634.7Q1116.7,631.7 1118.2,628.9L1121.5,622.8Q1123.0,620.0 1124.4,621.6L1127.6,624.9Q1129.0,626.5 1130.4,623.3L1133.6,616.2Q1135.0,613.0 1137.4,611.0L1142.6,606.5Q1145.0,604.5 1145.5,602.0L1146.5,596.5Q1147.0,594.0 1148.2,594.5L1150.8,595.5Q1152.0,596.0 1153.2,596.7L1155.8,598.3Q1157.0,599.0 1157.7,597.8L1160.0,594.0L1165.3,594.0Q1167.0,594.0 1167.5,595.2L1168.5,597.8Q1169.0,599.0 1171.4,599.5L1176.6,600.5Q1179.0,601.0 1179.2,602.4L1179.8,605.6Q1180.0,607.0 1179.3,608.9L1177.7,613.1Q1177.0,615.0 1177.5,616.2L1178.5,618.8Q1179.0,620.0 1181.2,620.5L1185.8,621.5Q1188.0,622.0 1189.7,622.7L1193.3,624.3Q1195.0,625.0 1196.0,625.8L1199.0,628.5L1202.8,631.2Q1204.0,632.0 1203.8,633.4L1203.2,636.6Q1203.0,638.0 1203.7,639.2L1205.3,641.8Q1206.0,643.0 1205.0,643.7L1203.0,645.3Q1202.0,646.0 1203.2,647.4L1205.8,650.6Q1207.0,652.0 1207.0,653.2L1206.9,655.8Q1206.9,657.0 1208.8,656.5L1212.9,655.5Q1214.8,655.0 1215.4,656.0L1216.7,658.0Q1217.3,659.0 1217.7,661.0L1218.8,667.4L1084.0,692.5ZM1218.6,629.5Q1220.0,630.0 1219.8,632.4L1219.2,637.6Q1219.0,640.0 1218.8,641.9L1218.2,646.1Q1218.0,648.0 1217.0,649.0L1215.0,651.0Q1214.0,652.0 1213.0,651.0L1211.0,649.0Q1210.0,648.0 1210.0,645.8L1210.0,641.2Q1210.0,639.0 1210.5,637.3L1211.5,633.7Q1212.0,632.0 1212.5,631.0L1213.5,629.0Q1214.0,628.0 1215.4,628.5Z"/>
<path d="M1091.5,568.0L1097.0,593.0L1120.8,590.0L1121.7,599.5Q1122.0,602.5 1124.6,600.7L1130.4,596.8Q1133.0,595.0 1136.1,593.8L1142.9,591.2Q1146.0,590.0 1148.2,589.8L1152.8,589.2Q1155.0,589.0 1156.2,590.2L1160.0,594.0L1157.7,597.8Q1157.0,599.0 1155.8,598.3L1153.2,596.7Q1152.0,596.0 1150.8,595.5L1148.2,594.5Q1147.0,594.0 1146.5,596.5L1145.5,602.0Q1145.0,604.5 1142.6,606.5L1137.4,611.0Q1135.0,613.0 1133.6,616.2L1130.4,623.3Q1129.0,626.5 1127.6,624.9L1124.4,621.6Q1123.0,620.0 1121.5,622.8L1118.2,628.9Q1116.7,631.7 1115.7,634.7L1113.5,641.0Q1112.5,644.0 1111.4,646.3L1109.1,651.2Q1108.0,653.5 1106.1,655.3L1101.9,659.2Q1100.0,661.0 1098.0,662.7L1093.7,666.3Q1091.7,668.0 1088.9,668.5L1082.8,669.5Q1080.0,670.0 1078.6,668.8L1074.0,665.0L1069.1,660.4Q1067.5,659.0 1065.5,656.8L1061.0,652.2Q1059.0,650.0 1058.3,647.8L1056.0,641.0L1060.9,635.7Q1062.5,634.0 1063.5,630.9L1065.7,624.1Q1066.7,621.0 1068.9,618.4L1073.8,612.6Q1076.0,610.0 1077.7,607.6L1081.3,602.4Q1083.0,600.0 1084.6,597.4L1088.0,591.6Q1089.6,589.0 1090.1,584.0Z"/>
<path d="M1087.5,526.5L1101.0,519.0L1101.0,524.0L1205.0,507.5L1208.8,517.0Q1210.0,520.0 1210.6,521.0L1212.5,524.0L1208.7,536.2Q1207.5,540.0 1208.3,541.4L1210.2,544.6Q1211.0,546.0 1213.2,548.8L1217.8,554.7Q1220.0,557.5 1218.2,559.3L1214.3,563.2Q1212.5,565.0 1211.7,566.2L1209.0,570.0L1206.0,570.4Q1205.0,570.5 1204.3,571.1L1202.0,573.0L1120.8,590.0L1097.0,593.0L1091.5,568.0Z"/>
<path d="M1101.0,519.0L1117.0,499.0L1112.4,489.9Q1111.0,487.0 1114.4,485.0L1121.6,480.5Q1125.0,478.5 1129.8,477.9L1140.2,476.6Q1145.0,476.0 1147.4,474.6L1152.6,471.4Q1155.0,470.0 1157.4,468.8L1162.6,466.2Q1165.0,465.0 1166.4,462.8L1169.6,458.2Q1171.0,456.0 1169.6,454.0L1166.4,449.5Q1165.0,447.5 1166.2,445.7L1168.8,441.8Q1170.0,440.0 1171.8,437.0L1175.7,430.5Q1177.5,427.5 1180.5,425.1L1187.0,419.9Q1190.0,417.5 1193.6,416.3L1201.4,413.7Q1205.0,412.5 1208.4,412.1L1219.0,411.0L1222.8,425.4Q1224.0,430.0 1224.2,434.2L1224.8,443.3Q1225.0,447.5 1226.4,449.3L1229.6,453.2Q1231.0,455.0 1232.1,459.7L1235.5,474.5L1236.5,494.5L1240.0,523.0L1240.0,528.0L1237.7,530.3Q1237.0,531.0 1235.9,532.2L1232.5,536.0L1212.5,524.0L1210.6,521.0Q1210.0,520.0 1208.8,517.0L1205.0,507.5L1101.0,524.0ZM1237.9,533.2Q1238.5,532.5 1240.1,531.1L1243.4,527.9Q1245.0,526.5 1246.7,526.0L1250.3,525.0Q1252.0,524.5 1253.9,523.5L1258.1,521.5Q1260.0,520.5 1262.4,519.7L1267.6,517.8Q1270.0,517.0 1271.0,517.5L1273.0,518.5Q1274.0,519.0 1271.6,520.7L1266.4,524.3Q1264.0,526.0 1262.1,527.4L1257.9,530.6Q1256.0,532.0 1254.1,533.0L1249.9,535.0Q1248.0,536.0 1246.1,536.6L1241.9,537.9Q1240.0,538.5 1238.9,538.6L1236.6,538.9Q1235.5,539.0 1235.6,538.2L1235.9,536.3Q1236.0,535.5 1236.6,534.8Z"/>
<path d="M1212.5,524.0L1232.5,536.0L1230.6,540.9Q1230.0,542.5 1231.2,543.3L1233.8,545.2Q1235.0,546.0 1236.0,548.8L1238.0,554.7Q1239.0,557.5 1238.5,561.0L1237.5,568.5Q1237.0,572.0 1236.3,573.4L1234.7,576.6Q1234.0,578.0 1233.0,579.7L1231.0,583.3Q1230.0,585.0 1229.8,586.7L1229.2,590.3Q1229.0,592.0 1227.9,592.1L1225.6,592.4Q1224.5,592.5 1224.1,591.1L1223.4,587.9Q1223.0,586.5 1221.3,586.0L1217.7,585.0Q1216.0,584.5 1214.8,583.7L1212.2,581.8Q1211.0,581.0 1210.3,579.8L1208.7,577.2Q1208.0,576.0 1208.2,574.6L1209.0,570.0L1211.7,566.2Q1212.5,565.0 1214.3,563.2L1218.2,559.3Q1220.0,557.5 1217.8,554.7L1213.2,548.8Q1211.0,546.0 1210.2,544.6L1208.3,541.4Q1207.5,540.0 1208.7,536.2Z"/>
<path d="M1120.8,590.0L1202.0,573.0L1211.5,610.0L1224.0,607.0L1225.5,613.8Q1226.0,616.0 1225.5,617.9L1224.5,622.1Q1224.0,624.0 1223.0,625.4L1221.0,628.6Q1220.0,630.0 1218.6,629.5L1215.4,628.5Q1214.0,628.0 1213.5,627.0L1212.5,625.0Q1212.0,624.0 1210.6,622.8L1207.4,620.2Q1206.0,619.0 1204.6,618.0L1201.4,616.0Q1200.0,615.0 1199.3,613.1L1197.7,608.9Q1197.0,607.0 1197.5,604.8L1198.5,600.2Q1199.0,598.0 1198.3,596.8L1196.7,594.2Q1196.0,593.0 1196.5,591.1L1197.5,586.9Q1198.0,585.0 1196.6,586.2L1193.4,588.8Q1192.0,590.0 1191.5,592.4L1190.5,597.6Q1190.0,600.0 1190.5,601.9L1191.5,606.1Q1192.0,608.0 1193.0,609.9L1195.0,614.1Q1196.0,616.0 1196.7,619.0L1199.0,628.5L1196.0,625.8Q1195.0,625.0 1193.3,624.3L1189.7,622.7Q1188.0,622.0 1185.8,621.5L1181.2,620.5Q1179.0,620.0 1178.5,618.8L1177.5,616.2Q1177.0,615.0 1177.7,613.1L1179.3,608.9Q1180.0,607.0 1179.8,605.6L1179.2,602.4Q1179.0,601.0 1176.6,600.5L1171.4,599.5Q1169.0,599.0 1168.5,597.8L1167.5,595.2Q1167.0,594.0 1165.3,594.0L1160.0,594.0L1156.2,590.2Q1155.0,589.0 1152.8,589.2L1148.2,589.8Q1146.0,590.0 1142.9,591.2L1136.1,593.8Q1133.0,595.0 1130.4,596.8L1124.6,600.7Q1122.0,602.5 1121.7,599.5Z"/>
<path d="M1202.0,573.0L1204.3,571.1Q1205.0,570.5 1206.0,570.4L1209.0,570.0L1207.5,573.8Q1207.0,575.0 1207.6,576.7L1208.9,580.3Q1209.5,582.0 1210.6,583.2L1212.9,585.8Q1214.0,587.0 1215.2,588.9L1217.8,593.1Q1219.0,595.0 1220.2,596.7L1222.8,600.3Q1224.0,602.0 1224.1,603.0L1224.5,606.0L1224.0,607.0L1211.5,610.0Z"/>
<path d="M1219.0,411.0L1254.8,399.6L1255.9,405.5Q1256.2,407.3 1255.7,409.7L1254.6,414.8Q1254.1,417.2 1253.1,418.9L1250.9,422.6Q1249.9,424.3 1250.1,428.4L1250.4,437.1Q1250.6,441.2 1250.7,444.5L1250.9,451.7Q1251.0,455.0 1251.1,458.4L1251.5,469.0L1235.5,474.5L1232.1,459.7Q1231.0,455.0 1229.6,453.2L1226.4,449.3Q1225.0,447.5 1224.8,443.3L1224.2,434.2Q1224.0,430.0 1222.8,425.4Z"/>
<path d="M1254.8,399.6L1257.0,392.6Q1257.7,390.4 1258.5,390.4L1261.2,390.4L1275.3,441.2L1281.8,447.7Q1283.8,449.7 1284.8,450.5L1288.0,453.2L1287.0,458.5L1274.1,461.9Q1270.0,463.0 1265.6,464.4L1251.5,469.0L1251.1,458.4Q1251.0,455.0 1250.9,451.7L1250.7,444.5Q1250.6,441.2 1250.4,437.1L1250.1,428.4Q1249.9,424.3 1250.9,422.6L1253.1,418.9Q1254.1,417.2 1254.6,414.8L1255.7,409.7Q1256.2,407.3 1255.9,405.5Z"/>
<path d="M1261.2,390.4L1266.0,388.3Q1267.5,387.6 1268.5,384.6L1270.8,377.9Q1271.8,374.9 1272.3,372.9L1273.4,368.4Q1273.9,366.4 1273.1,364.4L1271.2,359.9Q1270.4,357.9 1271.1,354.2L1272.5,346.1Q1273.2,342.4 1274.2,339.0L1276.4,331.6Q1277.4,328.2 1278.6,325.7L1281.2,320.2Q1282.4,317.7 1283.9,318.7L1287.2,320.9Q1288.7,321.9 1290.1,321.2L1293.0,319.8Q1294.4,319.1 1295.9,317.9L1299.2,315.3Q1300.7,314.1 1302.4,315.0L1306.1,316.8Q1307.8,317.7 1309.3,318.5L1312.7,320.4Q1314.2,321.2 1314.9,323.6L1316.3,328.7Q1317.0,331.1 1318.0,334.5L1320.2,341.8Q1321.2,345.2 1322.2,348.1L1324.5,354.3Q1325.5,357.2 1327.3,358.0L1331.4,359.9Q1333.2,360.7 1334.2,362.7L1336.5,367.2Q1337.5,369.2 1339.2,369.4L1342.8,369.7Q1344.5,369.9 1345.5,371.4L1347.8,374.8Q1348.8,376.3 1348.3,378.3L1347.1,382.7Q1346.6,384.7 1345.4,386.1L1342.9,389.0Q1341.7,390.4 1340.0,392.1L1336.3,395.8Q1334.6,397.5 1333.6,398.5L1331.4,400.7Q1330.4,401.7 1328.7,403.4L1325.0,407.1Q1323.3,408.8 1322.3,409.8L1320.1,412.0Q1319.1,413.0 1317.1,414.0L1312.6,416.2Q1310.6,417.2 1308.6,418.9L1304.1,422.6Q1302.1,424.3 1300.4,425.0L1296.8,426.4Q1295.1,427.1 1294.4,428.5L1293.0,431.4Q1292.3,432.8 1292.1,434.8L1291.8,439.2Q1291.6,441.2 1291.2,442.9L1290.5,446.6Q1290.1,448.3 1289.6,449.5L1288.0,453.2L1284.8,450.5Q1283.8,449.7 1281.8,447.7L1275.3,441.2Z"/>
<path d="M1235.5,474.5L1251.5,469.0L1265.6,464.4Q1270.0,463.0 1274.1,461.9L1287.0,458.5L1289.3,461.9Q1290.0,463.0 1289.5,464.0L1288.5,466.0Q1288.0,467.0 1287.8,468.0L1287.2,470.0Q1287.0,471.0 1287.7,472.0L1289.3,474.0Q1290.0,475.0 1291.4,475.4L1294.6,476.1Q1296.0,476.5 1297.0,477.5L1299.0,479.5Q1300.0,480.5 1301.2,480.9L1303.8,481.6Q1305.0,482.0 1306.4,481.8L1309.6,481.2Q1311.0,481.0 1312.1,481.7L1314.4,483.3Q1315.5,484.0 1315.5,485.2L1315.5,487.8Q1315.5,489.0 1314.9,489.7L1313.6,491.3Q1313.0,492.0 1311.1,492.8L1306.9,494.7Q1305.0,495.5 1303.6,495.6L1300.4,495.9Q1299.0,496.0 1298.3,495.3L1296.7,493.7Q1296.0,493.0 1295.5,493.7L1294.5,495.3Q1294.0,496.0 1293.8,496.7L1293.2,498.3Q1293.0,499.0 1292.4,499.1L1290.5,499.5L1284.0,489.2Q1282.0,486.0 1279.7,486.7L1272.5,489.0L1236.5,494.5Z"/>
<path d="M1272.5,489.0L1279.7,486.7Q1282.0,486.0 1284.0,489.2L1290.5,499.5L1284.8,502.9Q1283.0,504.0 1281.1,505.0L1275.0,508.0Z"/>
<path d="M1236.5,494.5L1272.5,489.0L1275.0,508.0L1266.6,511.8Q1264.0,513.0 1261.6,513.7L1256.4,515.3Q1254.0,516.0 1251.8,517.7L1247.2,521.3Q1245.0,523.0 1243.8,524.2L1240.0,528.0L1240.0,523.0Z"/>
</g>
<g stroke="#0b3d2d" stroke-width="1.3" stroke-linejoin="round">
<path id="s-WA" fill="#e7abd3" d="M181.0,349.0L182.1,342.2Q182.5,340.0 183.3,338.8L185.2,336.2Q186.0,335.0 185.5,334.0L184.5,332.0Q184.0,331.0 184.8,329.6L186.7,326.4Q187.5,325.0 186.8,323.9L185.1,321.6Q184.4,320.5 184.4,319.2L184.2,316.3Q184.2,315.0 184.4,313.1L184.8,308.9Q185.0,307.0 184.9,305.4L184.8,302.1Q184.7,300.5 184.3,298.9L183.4,295.6Q183.0,294.0 183.1,292.3L183.2,288.7Q183.3,287.0 183.7,285.4L184.6,282.1Q185.0,280.5 185.5,280.6L186.7,281.0Q187.2,281.1 188.7,282.3L191.8,284.9Q193.3,286.1 195.2,287.4L199.2,290.4Q201.1,291.7 203.0,292.5L207.0,294.2Q208.9,295.0 210.6,295.5L214.4,296.5Q216.1,297.0 217.2,297.0L219.5,297.2Q220.6,297.2 221.0,296.7L221.8,295.5Q222.2,295.0 222.5,294.5L223.0,293.3Q223.3,292.8 222.5,291.9L220.8,289.8Q220.0,288.9 219.2,288.5L217.5,287.6Q216.7,287.2 216.3,286.4L215.4,284.7Q215.0,283.9 215.5,283.4L216.7,282.2Q217.2,281.7 218.1,281.4L220.2,280.9Q221.1,280.6 221.8,281.0L223.5,281.8Q224.2,282.2 224.4,282.9L224.8,284.3Q225.0,285.0 224.9,285.9L224.8,288.0Q224.7,288.9 224.9,289.6L225.4,291.0Q225.6,291.7 225.4,293.0L224.9,295.9Q224.7,297.2 224.4,298.5L223.6,301.5Q223.3,302.8 222.9,303.9L222.1,306.1Q221.7,307.2 220.6,308.1L218.3,310.2Q217.2,311.1 217.9,310.6L219.3,309.4Q220.0,308.9 220.8,308.7L222.5,308.3Q223.3,308.1 224.4,307.9L226.7,307.4Q227.8,307.2 228.3,306.7L229.2,305.5Q229.7,305.0 229.5,303.9L229.1,301.7Q228.9,300.6 228.6,299.5L228.1,297.2Q227.8,296.1 227.7,295.2L227.3,293.1Q227.2,292.2 227.6,291.3L228.5,289.2Q228.9,288.3 229.1,287.7L229.5,286.2Q229.7,285.6 229.2,284.7L228.3,282.6Q227.8,281.7 227.5,280.8L227.0,278.7Q226.7,277.8 226.9,277.1L227.3,275.4Q227.5,274.7 228.0,274.6L229.4,274.2L339.0,304.5L321.0,390.0L290.0,382.5L260.0,379.0L235.0,376.0L225.5,374.5Q222.5,374.0 220.7,374.4L216.8,375.1Q215.0,375.5 212.6,374.4L207.4,372.1Q205.0,371.0 204.0,369.6L202.0,366.4Q201.0,365.0 200.8,362.8L200.2,358.2Q200.0,356.0 198.2,354.8L194.3,352.2Q192.5,351.0 189.7,350.5Z"/>
<path id="s-OR" fill="#f6e0ef" d="M181.0,349.0L170.0,380.0L157.5,410.0L144.0,435.0L141.0,448.3Q140.0,452.5 139.5,455.3L138.0,464.0L229.0,490.5L291.0,504.0L300.0,462.5L305.7,448.4Q307.5,444.0 306.7,441.8L304.8,437.2Q304.0,435.0 304.8,433.2L306.7,429.3Q307.5,427.5 309.3,425.1L313.2,419.9Q315.0,417.5 317.4,414.7L322.6,408.8Q325.0,406.0 325.2,404.6L325.8,401.4Q326.0,400.0 324.8,397.6L321.0,390.0L290.0,382.5L260.0,379.0L235.0,376.0L225.5,374.5Q222.5,374.0 220.7,374.4L216.8,375.1Q215.0,375.5 212.6,374.4L207.4,372.1Q205.0,371.0 204.0,369.6L202.0,366.4Q201.0,365.0 200.8,362.8L200.2,358.2Q200.0,356.0 198.2,354.8L194.3,352.2Q192.5,351.0 189.7,350.5Z"/>
<path id="s-CA" fill="#c32f92" d="M138.0,464.0L229.0,490.5L207.5,575.0L303.0,719.0L305.3,727.4Q306.0,730.0 307.0,732.6L309.0,738.4Q310.0,741.0 308.2,742.6L304.3,745.9Q302.5,747.5 301.9,750.3L300.6,756.2Q300.0,759.0 298.6,760.4L295.4,763.6Q294.0,765.0 293.0,766.8L291.0,770.7Q290.0,772.5 291.4,774.1L294.6,777.4Q296.0,779.0 294.6,780.4L290.0,785.0L227.5,779.0L226.4,766.5Q226.0,762.5 224.6,758.9L221.4,751.1Q220.0,747.5 216.6,745.1L209.4,739.9Q206.0,737.5 205.2,735.1L203.3,729.9Q202.5,727.5 199.5,725.7L193.0,721.8Q190.0,720.0 187.0,717.4L180.5,711.6Q177.5,709.0 173.1,706.8L163.4,702.2Q159.0,700.0 159.5,696.4L160.5,688.6Q161.0,685.0 159.6,680.8L156.4,671.7Q155.0,667.5 153.8,663.9L151.2,656.1Q150.0,652.5 148.6,648.9L145.4,641.1Q144.0,637.5 144.5,634.7L145.5,628.8Q146.0,626.0 144.8,623.4L142.2,617.6Q141.0,615.0 140.8,612.0L140.2,605.5Q140.0,602.5 140.6,599.5L141.9,593.0Q142.5,590.0 140.5,588.8L136.0,586.2Q134.0,585.0 133.6,582.0L132.9,575.5Q132.5,572.5 130.5,568.3L126.0,559.2Q124.0,555.0 124.8,549.6L126.7,537.9Q127.5,532.5 126.3,528.3L123.7,519.2Q122.5,515.0 122.9,512.6L123.6,507.4Q124.0,505.0 126.0,501.4L132.5,490.0Z"/>
<path id="s-NV" fill="#d671b5" d="M229.0,490.5L291.0,504.0L355.5,519.5L329.0,665.0L322.5,689.0L318.7,690.5Q317.5,691.0 315.7,690.2L311.8,688.3Q310.0,687.5 308.8,689.9L306.2,695.1Q305.0,697.5 304.5,702.7L303.0,719.0L207.5,575.0Z"/>
<path id="s-ID" fill="#f5dbec" d="M339.0,304.5L355.5,309.0L351.0,334.0L354.8,342.4Q356.0,345.0 355.8,346.8L355.2,350.7Q355.0,352.5 356.8,354.9L362.5,362.5L376.0,382.5L373.3,390.1Q372.5,392.5 370.9,396.1L367.6,403.9Q366.0,407.5 367.0,408.7L369.0,411.3Q370.0,412.5 371.4,411.9L374.6,410.6Q376.0,410.0 377.0,410.6L379.0,411.9Q380.0,412.5 381.0,416.7L383.0,425.8Q384.0,430.0 385.4,433.0L388.6,439.5Q390.0,442.5 390.6,444.9L391.9,450.1Q392.5,452.5 396.7,451.9L405.8,450.6Q410.0,450.0 412.6,450.6L418.4,451.9Q421.0,452.5 422.2,451.3L424.8,448.7Q426.0,447.5 427.2,449.1L431.0,454.0L421.0,528.5L355.5,519.5L291.0,504.0L300.0,462.5L305.7,448.4Q307.5,444.0 306.7,441.8L304.8,437.2Q304.0,435.0 304.8,433.2L306.7,429.3Q307.5,427.5 309.3,425.1L313.2,419.9Q315.0,417.5 317.4,414.7L322.6,408.8Q325.0,406.0 325.2,404.6L325.8,401.4Q326.0,400.0 324.8,397.6L321.0,390.0Z"/>
<path id="s-MT" fill="#def4de" d="M355.5,309.0L430.0,321.0L505.0,332.5L590.0,344.0L584.0,431.0L580.0,458.0L434.5,441.0L431.0,454.0L427.2,449.1Q426.0,447.5 424.8,448.7L422.2,451.3Q421.0,452.5 418.4,451.9L412.6,450.6Q410.0,450.0 405.8,450.6L396.7,451.9Q392.5,452.5 391.9,450.1L390.6,444.9Q390.0,442.5 388.6,439.5L385.4,433.0Q384.0,430.0 383.0,425.8L381.0,416.7Q380.0,412.5 379.0,411.9L377.0,410.6Q376.0,410.0 374.6,410.6L371.4,411.9Q370.0,412.5 369.0,411.3L367.0,408.7Q366.0,407.5 367.6,403.9L370.9,396.1Q372.5,392.5 373.3,390.1L376.0,382.5L362.5,362.5L356.8,354.9Q355.0,352.5 355.2,350.7L355.8,346.8Q356.0,345.0 354.8,342.4L351.0,334.0Z"/>
<path id="s-WY" fill="#93da94" d="M434.5,441.0L580.0,458.0L576.0,519.5L570.0,576.0L459.5,566.0L417.0,559.5L421.0,528.5L431.0,454.0Z"/>
<path id="s-UT" fill="#fdf9fc" d="M355.5,519.5L421.0,528.5L417.0,559.5L459.5,566.0L445.0,682.5L329.0,665.0Z"/>
<path id="s-CO" fill="#e6f6e6" d="M459.5,566.0L570.0,576.0L614.5,581.0L613.0,610.0L607.5,698.0L584.0,697.0L445.0,682.5Z"/>
<path id="s-AZ" fill="#f0cce4" d="M329.0,665.0L445.0,682.5L421.0,849.0L370.0,840.0L284.0,789.0L290.0,785.0L294.6,780.4Q296.0,779.0 294.6,777.4L291.4,774.1Q290.0,772.5 291.0,770.7L293.0,766.8Q294.0,765.0 295.4,763.6L298.6,760.4Q300.0,759.0 300.6,756.2L301.9,750.3Q302.5,747.5 304.3,745.9L308.2,742.6Q310.0,741.0 309.0,738.4L307.0,732.6Q306.0,730.0 305.3,727.4L303.0,719.0L304.5,702.7Q305.0,697.5 306.2,695.1L308.8,689.9Q310.0,687.5 311.8,688.3L315.7,690.2Q317.5,691.0 318.7,690.5L322.5,689.0Z"/>
<path id="s-NM" fill="#ebbbdc" d="M445.0,682.5L584.0,697.0L582.5,713.0L572.0,844.0L487.0,841.5L484.0,837.5L483.0,840.5L443.8,839.0L443.2,849.5Q443.0,852.8 437.7,851.9L421.0,849.0Z"/>
<path id="s-ND" fill="#0bab0d" d="M590.0,344.0L660.0,347.5L724.5,349.0L725.6,365.0Q726.0,370.0 727.0,374.8L729.0,385.2Q730.0,390.0 731.0,395.4L734.0,412.5L736.0,439.0L584.0,431.0Z"/>
<path id="s-SD" fill="#0eac10" d="M584.0,431.0L736.0,439.0L733.3,446.6Q732.5,449.0 733.7,451.6L737.5,460.0L738.0,511.0L738.8,521.6Q739.0,525.0 738.6,528.6L737.5,540.0L731.8,535.4Q730.0,534.0 727.6,533.3L722.4,531.7Q720.0,531.0 717.0,530.8L710.5,530.2Q707.5,530.0 703.9,528.6L692.5,524.0L576.0,519.5L580.0,458.0Z"/>
<path id="s-NE" fill="#b4e5b5" d="M576.0,519.5L692.5,524.0L703.9,528.6Q707.5,530.0 710.5,530.2L717.0,530.8Q720.0,531.0 722.4,531.7L727.6,533.3Q730.0,534.0 731.8,535.4L737.5,540.0L741.3,549.5Q742.5,552.5 744.1,556.7L747.4,565.8Q749.0,570.0 750.2,574.2L752.8,583.3Q754.0,587.5 754.5,590.1L756.0,598.5L759.8,605.3Q761.0,607.5 761.4,609.2L762.5,614.5L613.0,610.0L614.5,581.0L570.0,576.0Z"/>
<path id="s-KS" fill="#8dd88e" d="M613.0,610.0L762.5,614.5L768.2,617.9Q770.0,619.0 771.0,619.8L773.0,621.7Q774.0,622.5 773.0,623.7L771.0,626.3Q770.0,627.5 771.2,629.5L773.8,634.0Q775.0,636.0 776.2,637.0L780.0,640.0L780.0,704.5L607.5,698.0Z"/>
<path id="s-OK" fill="#ace2ac" d="M607.5,698.0L780.0,704.5L781.0,717.5L786.0,801.0L778.4,799.1Q776.0,798.5 774.2,797.9L770.1,796.4Q768.3,795.8 765.5,795.8L759.5,795.8Q756.7,795.8 754.9,796.3L750.8,797.5Q749.0,798.0 747.2,798.3L743.5,798.9Q741.7,799.2 739.6,798.7L735.1,797.5Q733.0,797.0 731.5,797.1L728.2,797.4Q726.7,797.5 725.1,797.9L721.6,798.8Q720.0,799.2 718.8,798.4L716.2,796.8Q715.0,796.0 713.8,795.8L711.2,795.2Q710.0,795.0 708.0,795.0L703.7,795.0Q701.7,795.0 700.6,794.0L698.1,792.0Q697.0,791.0 696.1,790.6L694.2,789.6Q693.3,789.2 690.9,789.0L685.7,788.5Q683.3,788.3 681.8,788.0L678.5,787.3Q677.0,787.0 676.1,786.5L674.2,785.5Q673.3,785.0 672.7,784.0L671.6,782.0Q671.0,781.0 670.4,780.8L668.9,780.2Q668.3,780.0 666.3,779.4L662.0,778.1Q660.0,777.5 659.0,777.4L657.0,777.1Q656.0,777.0 655.5,776.3L654.0,774.0L655.0,717.0L582.5,713.0L584.0,697.0Z"/>
<path id="s-TX" fill="#e093c7" d="M582.5,713.0L655.0,717.0L654.0,774.0L655.5,776.3Q656.0,777.0 657.0,777.1L659.0,777.4Q660.0,777.5 662.0,778.1L666.3,779.4Q668.3,780.0 668.9,780.2L670.4,780.8Q671.0,781.0 671.6,782.0L672.7,784.0Q673.3,785.0 674.2,785.5L676.1,786.5Q677.0,787.0 678.5,787.3L681.8,788.0Q683.3,788.3 685.7,788.5L690.9,789.0Q693.3,789.2 694.2,789.6L696.1,790.6Q697.0,791.0 698.1,792.0L700.6,794.0Q701.7,795.0 703.7,795.0L708.0,795.0Q710.0,795.0 711.2,795.2L713.8,795.8Q715.0,796.0 716.2,796.8L718.8,798.4Q720.0,799.2 721.6,798.8L725.1,797.9Q726.7,797.5 728.2,797.4L731.5,797.1Q733.0,797.0 735.1,797.5L739.6,798.7Q741.7,799.2 743.5,798.9L747.2,798.3Q749.0,798.0 750.8,797.5L754.9,796.3Q756.7,795.8 759.5,795.8L765.5,795.8Q768.3,795.8 770.1,796.4L774.2,797.9Q776.0,798.5 778.4,799.1L786.0,801.0L793.6,803.3Q796.0,804.0 796.2,808.1L797.0,821.0L797.4,836.2Q797.5,841.0 798.6,844.6L800.9,852.4Q802.0,856.0 803.6,859.4L807.1,866.6Q808.8,870.0 809.4,872.4L810.6,877.6Q811.2,880.0 810.4,882.7L808.4,888.5Q807.5,891.2 807.6,893.4L808.0,897.9Q808.1,900.0 807.7,902.4L806.7,907.6Q806.2,910.0 806.0,912.4L805.0,920.0L789.8,925.9Q785.0,927.7 782.2,930.2L776.1,935.5Q773.3,938.0 769.8,940.8L762.2,946.8Q758.8,949.6 755.2,951.4L747.5,955.2Q744.0,957.0 743.7,955.9L743.0,953.6Q742.7,952.5 740.3,953.2L734.9,954.7Q732.5,955.4 730.4,958.2L725.9,964.2Q723.8,967.0 722.0,969.1L718.2,973.7Q716.5,975.8 715.4,979.3L713.1,986.9Q712.0,990.4 711.7,994.6L710.9,1003.8Q710.6,1008.0 711.7,1011.5L713.9,1019.0Q715.0,1022.5 714.6,1024.5L713.5,1031.0L701.3,1027.9Q697.5,1026.9 694.0,1025.8L686.5,1023.6Q683.0,1022.5 679.5,1020.4L671.8,1015.9Q668.3,1013.8 665.8,1010.2L660.5,1002.5Q658.0,999.0 657.7,995.5L657.0,988.1Q656.7,984.6 653.9,981.1L647.8,973.5Q645.0,970.0 642.6,967.2L637.2,961.1Q634.8,958.3 633.0,954.1L629.3,945.0Q627.5,940.8 625.4,937.7L620.9,930.8Q618.8,927.7 616.6,924.9L612.1,918.8Q610.0,916.0 607.2,915.3L601.1,913.7Q598.3,913.0 595.5,912.3L589.5,910.7Q586.7,910.0 584.3,910.7L578.9,912.3Q576.5,913.0 574.7,915.5L570.8,920.8Q569.0,923.3 567.3,926.0L563.6,931.7Q561.9,934.4 559.5,933.1L554.1,930.3Q551.7,929.0 548.9,926.9L542.8,922.5Q540.0,920.4 537.2,916.9L531.1,909.3Q528.3,905.8 527.6,901.6L526.1,892.5Q525.4,888.3 523.3,885.5L518.8,879.5Q516.7,876.7 513.2,873.9L505.5,867.8Q502.0,865.0 499.2,861.5L493.2,853.9Q490.4,850.4 488.9,847.3L484.0,837.5L487.0,841.5L572.0,844.0Z"/>
<path id="s-MN" fill="#72ce73" d="M724.5,349.0L762.5,347.0L763.6,340.9Q764.0,339.0 765.9,339.0L770.1,339.0Q772.0,339.0 772.5,341.6L773.5,347.4Q774.0,350.0 776.0,351.4L780.5,354.6Q782.5,356.0 784.9,356.7L790.1,358.3Q792.5,359.0 795.5,359.2L802.0,359.8Q805.0,360.0 807.2,361.0L811.8,363.0Q814.0,364.0 816.6,364.4L822.4,365.1Q825.0,365.5 826.2,367.2L828.8,370.8Q830.0,372.5 833.0,372.5L839.5,372.5Q842.5,372.5 844.3,370.9L848.2,367.6Q850.0,366.0 852.4,367.0L857.6,369.0Q860.0,370.0 864.2,371.1L873.3,373.4Q877.5,374.5 873.9,377.0L866.1,382.5Q862.5,385.0 858.3,388.0L849.2,394.5Q845.0,397.5 841.9,400.6L832.0,410.5L827.4,415.8Q826.0,417.5 825.8,421.7L825.2,430.8Q825.0,435.0 822.8,437.3L818.2,442.2Q816.0,444.5 817.0,447.0L819.0,452.5Q820.0,455.0 819.8,458.6L819.2,466.4Q819.0,470.0 821.6,472.4L827.4,477.6Q830.0,480.0 833.0,483.4L839.5,490.6Q842.5,494.0 844.3,496.0L848.2,500.5Q850.0,502.5 850.6,504.2L852.5,509.5L738.0,511.0L737.5,460.0L733.7,451.6Q732.5,449.0 733.3,446.6L736.0,439.0L734.0,412.5L731.0,395.4Q730.0,390.0 729.0,385.2L727.0,374.8Q726.0,370.0 725.6,365.0Z"/>
<path id="s-IA" fill="#44bf46" d="M738.0,511.0L852.5,509.5L854.4,519.4Q855.0,522.5 857.4,525.5L865.0,535.0L871.8,543.4Q874.0,546.0 874.5,548.8L875.5,554.7Q876.0,557.5 874.6,560.3L871.4,566.2Q870.0,569.0 867.6,570.4L862.4,573.6Q860.0,575.0 859.8,578.0L859.2,584.5Q859.0,587.5 857.3,590.5L852.0,600.0L847.5,596.0L756.0,598.5L754.5,590.1Q754.0,587.5 752.8,583.3L750.2,574.2Q749.0,570.0 747.4,565.8L744.1,556.7Q742.5,552.5 741.3,549.5L737.5,540.0L738.6,528.6Q739.0,525.0 738.8,521.6Z"/>
<path id="s-MO" fill="#b8e7b9" d="M756.0,598.5L847.5,596.0L852.0,600.0L851.2,607.6Q851.0,610.0 852.6,613.6L855.9,621.4Q857.5,625.0 859.9,627.4L865.1,632.6Q867.5,635.0 868.7,636.8L871.3,640.7Q872.5,642.5 874.3,642.9L878.2,643.6Q880.0,644.0 880.6,646.0L881.9,650.5Q882.5,652.5 881.7,654.3L879.8,658.2Q879.0,660.0 880.4,662.4L883.6,667.6Q885.0,670.0 887.4,671.8L892.6,675.7Q895.0,677.5 896.4,679.3L899.6,683.2Q901.0,685.0 902.0,687.6L904.0,693.4Q905.0,696.0 906.2,697.0L910.0,700.0L909.2,705.7Q909.0,707.5 908.3,708.3L906.0,711.0L904.5,714.0Q904.0,715.0 902.8,716.8L900.2,720.7Q899.0,722.5 898.3,724.1L896.0,729.0L886.9,727.5Q884.0,727.0 884.8,724.4L887.5,716.0L781.0,717.5L780.0,704.5L780.0,640.0L776.2,637.0Q775.0,636.0 773.8,634.0L771.2,629.5Q770.0,627.5 771.0,626.3L773.0,623.7Q774.0,622.5 773.0,621.7L771.0,619.8Q770.0,619.0 768.2,617.9L762.5,614.5L761.4,609.2Q761.0,607.5 759.8,605.3Z"/>
<path id="s-AR" fill="#72ce73" d="M781.0,717.5L887.5,716.0L884.8,724.4Q884.0,727.0 886.9,727.5L896.0,729.0L896.0,733.6Q896.0,735.0 895.2,737.4L893.3,742.6Q892.5,745.0 891.9,748.4L890.0,759.0L884.3,763.6Q882.5,765.0 881.7,768.0L879.8,774.5Q879.0,777.5 876.8,780.3L872.2,786.2Q870.0,789.0 869.4,791.0L868.1,795.5Q867.5,797.5 868.1,800.5L869.4,807.0Q870.0,810.0 869.8,812.2L869.0,819.0L797.0,821.0L796.2,808.1Q796.0,804.0 793.6,803.3L786.0,801.0Z"/>
<path id="s-LA" fill="#e198c9" d="M797.0,821.0L869.0,819.0L870.1,829.3Q870.4,832.5 871.5,834.9L873.7,840.3Q874.8,842.7 873.0,845.8L869.3,852.7Q867.5,855.8 866.1,858.6L863.1,864.7Q861.7,867.5 861.6,870.2L861.2,878.8L907.5,878.1L908.0,885.2Q908.1,887.5 908.7,889.3L910.0,893.2Q910.6,895.0 911.5,896.2L914.4,900.0L916.8,902.9Q917.5,903.8 917.8,905.0L918.5,907.5Q918.8,908.8 917.9,910.0L915.9,912.5Q915.0,913.8 914.3,914.8L912.6,917.1Q911.9,918.1 912.6,919.0L914.3,921.0Q915.0,921.9 916.8,922.2L920.7,922.8Q922.5,923.1 924.0,923.9L927.2,925.5Q928.8,926.2 928.9,927.0L929.2,928.6Q929.4,929.4 928.6,930.3L927.0,932.2Q926.2,933.1 924.5,932.7L920.5,931.7Q918.8,931.2 917.2,930.5L914.0,928.9Q912.5,928.1 911.3,927.7L908.7,926.7Q907.5,926.2 907.2,925.4L906.5,923.4Q906.2,922.5 905.5,923.7L903.9,926.3Q903.1,927.5 902.4,929.3L900.7,933.2Q900.0,935.0 899.3,935.1L897.6,935.5Q896.9,935.6 896.7,934.4L896.4,931.8Q896.2,930.6 894.8,931.1L891.5,932.0Q890.0,932.5 888.8,933.4L886.2,935.4Q885.0,936.2 883.8,936.0L881.2,935.3Q880.0,935.0 878.5,934.1L875.2,932.1Q873.8,931.2 872.9,930.4L870.9,928.4Q870.0,927.5 869.7,926.9L869.0,925.6Q868.8,925.0 867.5,924.5L865.0,923.6Q863.8,923.1 863.1,922.4L861.9,920.7Q861.2,920.0 860.4,919.7L858.4,919.0Q857.5,918.8 856.6,919.5L854.6,921.1Q853.8,921.9 852.5,921.4L850.0,920.5Q848.8,920.0 847.5,920.6L845.0,921.9Q843.8,922.5 842.0,922.4L838.0,922.0Q836.2,921.9 834.1,921.3L829.6,920.0Q827.5,919.4 825.1,919.2L819.9,918.9Q817.5,918.8 814.5,919.0L805.0,920.0L806.0,912.4Q806.2,910.0 806.7,907.6L807.7,902.4Q808.1,900.0 808.0,897.9L807.6,893.4Q807.5,891.2 808.4,888.5L810.4,882.7Q811.2,880.0 810.6,877.6L809.4,872.4Q808.8,870.0 807.1,866.6L803.6,859.4Q802.0,856.0 800.9,852.4L798.6,844.6Q797.5,841.0 797.4,836.2Z"/>
<path id="s-WI" fill="#11ad13" d="M832.0,410.5L838.1,409.0Q840.0,408.5 842.0,408.3L846.3,407.7Q848.3,407.5 849.5,406.9L852.3,405.6Q853.5,405.0 854.0,406.1L855.1,408.5Q855.6,409.6 855.1,410.5L854.0,412.6Q853.5,413.5 854.8,413.8L857.5,414.5Q858.8,414.8 860.9,416.0L867.5,420.0L887.5,424.0L900.8,428.6Q905.0,430.0 906.8,431.4L910.7,434.6Q912.5,436.0 913.3,438.2L915.2,442.8Q916.0,445.0 917.0,448.0L920.0,457.5L917.0,465.1Q916.0,467.5 916.4,468.3L917.1,470.2Q917.5,471.0 919.9,467.8L925.1,460.7Q927.5,457.5 929.2,455.3L932.8,450.7Q934.5,448.5 934.6,449.7L935.0,452.5Q935.1,453.7 934.1,455.4L932.0,459.0Q931.0,460.7 930.3,462.9L928.8,467.8Q928.1,470.0 927.8,472.5L927.3,478.0Q927.0,480.5 926.4,482.7L925.3,487.6Q924.7,489.8 925.1,491.5L926.0,495.0Q926.4,496.7 925.7,499.2L924.2,504.7Q923.5,507.2 923.6,510.0L924.0,516.0Q924.1,518.8 924.5,521.6L925.4,527.7Q925.8,530.5 925.7,531.5L925.2,534.5L865.0,535.0L857.4,525.5Q855.0,522.5 854.4,519.4L852.5,509.5L850.6,504.2Q850.0,502.5 848.2,500.5L844.3,496.0Q842.5,494.0 839.5,490.6L833.0,483.4Q830.0,480.0 827.4,477.6L821.6,472.4Q819.0,470.0 819.2,466.4L819.8,458.6Q820.0,455.0 819.0,452.5L817.0,447.0Q816.0,444.5 818.2,442.2L822.8,437.3Q825.0,435.0 825.2,430.8L825.8,421.7Q826.0,417.5 827.4,415.8Z"/>
<path id="s-IL" fill="#efc9e3" d="M865.0,535.0L925.2,534.5L926.6,537.6Q927.0,538.6 927.8,540.3L929.7,543.9Q930.5,545.6 931.3,547.3L934.0,552.6L940.0,638.0L938.1,649.0Q937.5,652.5 936.3,654.9L933.7,660.1Q932.5,662.5 932.5,664.3L932.5,670.0L930.6,679.5Q930.0,682.5 928.6,683.1L925.4,684.4Q924.0,685.0 924.0,686.8L924.0,690.7Q924.0,692.5 921.8,692.9L917.2,693.6Q915.0,694.0 913.8,695.4L910.0,700.0L906.2,697.0Q905.0,696.0 904.0,693.4L902.0,687.6Q901.0,685.0 899.6,683.2L896.4,679.3Q895.0,677.5 892.6,675.7L887.4,671.8Q885.0,670.0 883.6,667.6L880.4,662.4Q879.0,660.0 879.8,658.2L881.7,654.3Q882.5,652.5 881.9,650.5L880.6,646.0Q880.0,644.0 878.2,643.6L874.3,642.9Q872.5,642.5 871.3,640.7L868.7,636.8Q867.5,635.0 865.1,632.6L859.9,627.4Q857.5,625.0 855.9,621.4L852.6,613.6Q851.0,610.0 851.2,607.6L852.0,600.0L857.3,590.5Q859.0,587.5 859.2,584.5L859.8,578.0Q860.0,575.0 862.4,573.6L867.6,570.4Q870.0,569.0 871.4,566.2L874.6,560.3Q876.0,557.5 875.5,554.7L874.5,548.8Q874.0,546.0 871.8,543.4Z"/>
<path id="s-MI" fill="#d0efd0" d="M981.6,428.7L987.8,430.4Q989.8,431.0 992.0,431.7L996.9,433.3Q999.1,434.0 1001.3,434.8L1006.2,436.6Q1008.4,437.4 1009.2,438.7L1011.1,441.4Q1011.9,442.7 1012.6,443.1L1014.1,444.0Q1014.8,444.4 1014.0,445.1L1012.1,446.6Q1011.3,447.3 1012.3,448.8L1014.3,452.2Q1015.3,453.7 1015.6,455.4L1016.2,459.0Q1016.5,460.7 1016.4,462.5L1016.0,466.5Q1015.9,468.3 1014.9,469.5L1012.9,472.3Q1011.9,473.5 1011.2,474.9L1009.7,477.9Q1009.0,479.3 1008.3,479.7L1006.7,480.6Q1006.0,481.0 1006.1,482.0L1006.5,484.1Q1006.6,485.1 1007.4,485.5L1009.3,486.5Q1010.1,486.9 1010.8,486.3L1012.3,485.1Q1013.0,484.5 1013.8,483.0L1015.7,479.6Q1016.5,478.1 1017.9,477.3L1020.9,475.5Q1022.3,474.7 1023.7,475.0L1026.7,475.5Q1028.1,475.8 1029.2,476.9L1031.7,479.4Q1032.8,480.5 1033.5,482.4L1035.0,486.7Q1035.7,488.6 1036.3,490.3L1037.4,493.9Q1038.0,495.6 1038.6,497.4L1039.7,501.3Q1040.3,503.1 1040.0,505.2L1039.5,509.8Q1039.2,511.9 1038.1,513.3L1035.6,516.3Q1034.5,517.7 1033.8,519.4L1032.3,523.0Q1031.6,524.7 1030.9,526.1L1029.4,529.1Q1028.7,530.5 1028.6,531.9L1028.2,534.9Q1028.1,536.3 1027.3,537.7L1025.5,540.7Q1024.7,542.1 1024.8,542.9L1025.0,545.5L995.0,549.5L950.0,552.5L953.7,545.5Q954.9,543.3 955.7,541.6L957.6,538.0Q958.4,536.3 959.0,534.1L960.1,529.2Q960.7,527.0 960.4,525.0L959.8,520.8Q959.5,518.8 958.7,516.9L956.8,512.6Q956.0,510.7 954.9,508.5L952.5,503.6Q951.4,501.4 951.0,499.7L950.1,496.1Q949.7,494.4 950.0,492.2L950.5,487.3Q950.8,485.1 950.9,482.9L951.3,478.0Q951.4,475.8 951.5,473.0L951.9,467.0Q952.0,464.2 952.7,463.9L954.2,463.3Q954.9,463.0 955.0,461.9L955.4,459.5Q955.5,458.4 956.6,457.3L959.0,454.8Q960.1,453.7 960.8,452.3L962.3,449.3Q963.0,447.9 964.0,447.8L966.1,447.4Q967.1,447.3 967.8,446.3L969.3,444.3Q970.0,443.3 971.1,442.7L973.6,441.5Q974.7,440.9 975.3,441.0L976.4,441.4Q977.0,441.5 976.6,440.5L975.6,438.4Q975.2,437.4 974.6,437.1L973.5,436.6Q972.9,436.3 973.3,435.3L974.3,433.2Q974.7,432.2 975.5,431.6L978.1,429.9ZM867.5,420.0L864.8,416.2Q864.0,415.0 866.6,413.2L872.4,409.3Q875.0,407.5 877.4,406.7L882.6,404.8Q885.0,404.0 887.4,402.1L892.6,397.9Q895.0,396.0 896.8,394.3L900.7,390.7Q902.5,389.0 904.3,388.0L908.2,386.0Q910.0,385.0 911.0,385.6L913.0,386.9Q914.0,387.5 912.4,389.5L909.1,394.0Q907.5,396.0 906.3,397.9L903.7,402.1Q902.5,404.0 904.3,403.6L908.2,402.9Q910.0,402.5 912.4,403.3L917.6,405.2Q920.0,406.0 921.8,407.2L925.7,409.8Q927.5,411.0 929.9,411.4L935.1,412.1Q937.5,412.5 939.9,410.9L945.1,407.6Q947.5,406.0 950.5,405.5L957.0,404.5Q960.0,404.0 962.4,403.0L967.6,401.0Q970.0,400.0 970.6,401.8L971.9,405.7Q972.5,407.5 974.9,407.5L980.1,407.5Q982.5,407.5 984.3,406.9L988.2,405.6Q990.0,405.0 991.0,407.4L993.0,412.6Q994.0,415.0 994.5,416.4L995.5,419.6Q996.0,421.0 994.0,421.0L989.5,421.0Q987.5,421.0 984.5,421.7L978.0,423.3Q975.0,424.0 972.0,424.5L965.5,425.5Q962.5,426.0 959.5,427.2L953.0,429.8Q950.0,431.0 947.6,431.4L942.4,432.1Q940.0,432.5 938.2,434.1L934.3,437.4Q932.5,439.0 931.3,441.6L928.7,447.4Q927.5,450.0 925.7,451.8L920.0,457.5L917.0,448.0Q916.0,445.0 915.2,442.8L913.3,438.2Q912.5,436.0 910.7,434.6L906.8,431.4Q905.0,430.0 900.8,428.6L887.5,424.0Z"/>
<path id="s-IN" fill="#ade3ae" d="M934.0,552.6L937.5,554.8Q938.6,555.5 940.0,555.1L943.0,554.1Q944.4,553.7 945.7,553.4L950.0,552.5L995.0,549.5L1001.0,626.0L1000.2,632.8Q1000.0,635.0 997.6,636.2L992.4,638.8Q990.0,640.0 990.0,641.8L990.0,645.7Q990.0,647.5 988.2,649.1L984.3,652.4Q982.5,654.0 981.9,656.0L980.6,660.5Q980.0,662.5 977.8,662.5L973.2,662.5Q971.0,662.5 970.5,661.7L969.5,659.8Q969.0,659.0 967.8,660.4L965.2,663.6Q964.0,665.0 961.8,665.0L957.2,665.0Q955.0,665.0 953.8,666.2L951.2,668.8Q950.0,670.0 947.6,669.4L942.4,668.1Q940.0,667.5 938.2,668.1L932.5,670.0L932.5,664.3Q932.5,662.5 933.7,660.1L936.3,654.9Q937.5,652.5 938.1,649.0L940.0,638.0Z"/>
<path id="s-OH" fill="#b6e6b6" d="M995.0,549.5L1025.0,545.5L1028.8,544.4Q1030.0,544.0 1031.8,544.8L1035.7,546.7Q1037.5,547.5 1039.3,548.0L1043.2,549.0Q1045.0,549.5 1047.4,549.0L1052.6,548.0Q1055.0,547.5 1057.4,545.7L1062.6,541.8Q1065.0,540.0 1067.4,538.2L1072.6,534.3Q1075.0,532.5 1078.0,531.1L1087.5,526.5L1091.5,568.0L1090.1,584.0Q1089.6,589.0 1088.0,591.6L1084.6,597.4Q1083.0,600.0 1081.3,602.4L1077.7,607.6Q1076.0,610.0 1073.8,612.6L1068.9,618.4Q1066.7,621.0 1065.7,624.1L1063.5,630.9Q1062.5,634.0 1060.9,635.7L1056.0,641.0L1053.3,639.5Q1052.5,639.0 1050.9,637.4L1047.6,634.1Q1046.0,632.5 1043.6,633.3L1038.4,635.2Q1036.0,636.0 1033.4,635.8L1027.6,635.2Q1025.0,635.0 1022.6,634.0L1017.4,632.0Q1015.0,631.0 1013.6,629.8L1010.4,627.2Q1009.0,626.0 1007.1,626.0L1001.0,626.0Z"/>
<path id="s-KY" fill="#91d992" d="M910.0,700.0L913.8,695.4Q915.0,694.0 917.2,693.6L921.8,692.9Q924.0,692.5 924.0,690.7L924.0,686.8Q924.0,685.0 925.4,684.4L928.6,683.1Q930.0,682.5 930.6,679.5L932.5,670.0L938.2,668.1Q940.0,667.5 942.4,668.1L947.6,669.4Q950.0,670.0 951.2,668.8L953.8,666.2Q955.0,665.0 957.2,665.0L961.8,665.0Q964.0,665.0 965.2,663.6L967.8,660.4Q969.0,659.0 969.5,659.8L970.5,661.7Q971.0,662.5 973.2,662.5L977.8,662.5Q980.0,662.5 980.6,660.5L981.9,656.0Q982.5,654.0 984.3,652.4L988.2,649.1Q990.0,647.5 990.0,645.7L990.0,641.8Q990.0,640.0 992.4,638.8L997.6,636.2Q1000.0,635.0 1000.2,632.8L1001.0,626.0L1007.1,626.0Q1009.0,626.0 1010.4,627.2L1013.6,629.8Q1015.0,631.0 1017.4,632.0L1022.6,634.0Q1025.0,635.0 1027.6,635.2L1033.4,635.8Q1036.0,636.0 1038.4,635.2L1043.6,633.3Q1046.0,632.5 1047.6,634.1L1050.9,637.4Q1052.5,639.0 1053.3,639.5L1056.0,641.0L1058.3,647.8Q1059.0,650.0 1061.0,652.2L1065.5,656.8Q1067.5,659.0 1069.1,660.4L1074.0,665.0L1057.5,680.0L1040.0,697.0L936.0,706.0L935.0,710.8L906.0,711.0L908.3,708.3Q909.0,707.5 909.2,705.7Z"/>
<path id="s-TN" fill="#d3f0d4" d="M906.0,711.0L935.0,710.8L936.0,706.0L1040.0,697.0L1084.0,692.5L1079.1,702.0Q1077.5,705.0 1075.1,706.0L1069.9,708.0Q1067.5,709.0 1065.7,710.4L1061.8,713.6Q1060.0,715.0 1058.8,716.8L1056.2,720.7Q1055.0,722.5 1052.0,723.7L1045.5,726.3Q1042.5,727.5 1040.7,728.7L1036.8,731.3Q1035.0,732.5 1033.2,734.1L1029.3,737.4Q1027.5,739.0 1027.5,740.7L1027.5,746.0L1000.0,750.5L939.0,756.0L890.0,759.0L891.9,748.4Q892.5,745.0 893.3,742.6L895.2,737.4Q896.0,735.0 896.0,733.6L896.0,729.0L898.3,724.1Q899.0,722.5 900.2,720.7L902.8,716.8Q904.0,715.0 904.5,714.0Z"/>
<path id="s-MS" fill="#5fc861" d="M890.0,759.0L939.0,756.0L935.0,810.0L938.8,860.0L940.0,893.1L930.5,893.6Q927.5,893.8 925.4,894.2L920.9,895.2Q918.8,895.6 917.7,896.7L914.4,900.0L911.5,896.2Q910.6,895.0 910.0,893.2L908.7,889.3Q908.1,887.5 908.0,885.2L907.5,878.1L861.2,878.8L861.6,870.2Q861.7,867.5 863.1,864.7L866.1,858.6Q867.5,855.8 869.3,852.7L873.0,845.8Q874.8,842.7 873.7,840.3L871.5,834.9Q870.4,832.5 870.1,829.3L869.0,819.0L869.8,812.2Q870.0,810.0 869.4,807.0L868.1,800.5Q867.5,797.5 868.1,795.5L869.4,791.0Q870.0,789.0 872.2,786.2L876.8,780.3Q879.0,777.5 879.8,774.5L881.7,768.0Q882.5,765.0 884.3,763.6Z"/>
<path id="s-AL" fill="#f3d4e9" d="M939.0,756.0L1000.0,750.5L1019.0,815.0L1023.5,850.0L1023.5,866.0L960.8,873.3L964.1,878.8Q965.2,880.6 965.2,883.8L965.2,893.8L964.1,894.7Q963.8,895.0 962.2,895.5L959.0,896.4Q957.5,896.9 957.2,895.2L956.5,891.7Q956.2,890.0 955.6,888.8L954.4,886.2Q953.8,885.0 953.1,885.0L951.9,885.0Q951.2,885.0 950.6,886.5L949.4,889.8Q948.8,891.2 946.6,891.7L940.0,893.1L938.8,860.0L935.0,810.0Z"/>
<path id="s-GA" fill="#de8cc3" d="M1000.0,750.5L1027.5,746.0L1055.0,746.0L1058.0,752.8Q1059.0,755.0 1061.0,756.2L1065.5,758.8Q1067.5,760.0 1069.9,763.0L1075.1,769.5Q1077.5,772.5 1080.5,775.5L1087.0,782.0Q1090.0,785.0 1092.4,787.2L1097.6,791.8Q1100.0,794.0 1102.9,796.9L1109.1,803.1Q1112.0,806.0 1115.3,809.6L1125.6,821.0L1121.2,836.4Q1119.8,841.2 1118.7,845.8L1115.4,860.2L1106.0,862.3Q1103.0,863.0 1102.5,865.5L1101.3,870.8Q1100.8,873.3 1100.5,872.0L1099.4,868.0L1030.8,872.8L1023.5,866.0L1023.5,850.0L1019.0,815.0Z"/>
<path id="s-FL" fill="#b6027b" d="M965.2,893.8L965.2,883.8Q965.2,880.6 964.1,878.8L960.8,873.3L1023.5,866.0L1030.8,872.8L1099.4,868.0L1100.5,872.0Q1100.8,873.3 1101.3,870.8L1102.5,865.5Q1103.0,863.0 1106.0,862.3L1115.4,860.2L1118.7,865.7Q1119.8,867.5 1122.2,871.7L1127.6,880.8Q1130.0,885.0 1132.4,889.9L1137.6,900.5Q1140.0,905.4 1142.8,909.7L1148.8,918.9Q1151.6,923.2 1151.1,924.0L1150.1,925.8Q1149.6,926.6 1151.2,929.2L1154.7,934.9Q1156.2,937.5 1158.3,942.4L1162.9,953.1Q1165.0,958.0 1166.5,960.5L1169.9,965.8Q1171.4,968.3 1171.8,971.3L1172.7,977.8Q1173.1,980.8 1173.4,983.8L1174.0,990.2Q1174.3,993.2 1174.2,994.8L1174.0,998.3Q1173.9,999.9 1173.3,1001.0L1172.0,1003.4Q1171.4,1004.5 1171.0,1006.2L1170.2,1009.8Q1169.8,1011.5 1169.0,1012.9L1167.2,1015.9Q1166.4,1017.3 1166.0,1017.7L1165.2,1018.6Q1164.8,1019.0 1163.2,1019.2L1159.7,1019.6Q1158.1,1019.8 1157.1,1020.4L1154.0,1022.3L1150.8,1021.7Q1149.8,1021.5 1149.3,1020.7L1148.3,1018.9Q1147.8,1018.1 1147.5,1016.9L1146.8,1014.4Q1146.5,1013.2 1145.7,1011.8L1144.0,1008.7Q1143.2,1007.3 1142.0,1006.5L1139.4,1004.8Q1138.2,1004.0 1136.6,1003.6L1133.2,1002.8Q1131.6,1002.4 1130.6,1001.6L1128.4,999.8Q1127.4,999.0 1126.8,997.6L1125.5,994.6Q1124.9,993.2 1124.1,991.8L1122.4,988.8Q1121.6,987.4 1120.4,987.7L1117.8,988.4Q1116.6,988.7 1115.6,987.8L1113.5,985.8Q1112.5,984.9 1111.5,982.9L1109.3,978.6Q1108.3,976.6 1107.3,974.6L1105.2,970.3Q1104.2,968.3 1103.0,967.2L1100.6,964.8Q1099.4,963.8 1099.7,961.6L1100.5,957.1Q1100.8,955.0 1099.0,954.3L1095.3,952.7Q1093.5,952.0 1093.9,949.9L1094.6,945.4Q1095.0,943.3 1094.6,939.1L1093.9,930.0Q1093.5,925.8 1092.4,923.0L1090.1,916.8Q1089.0,914.0 1086.9,912.3L1082.5,908.6Q1080.4,906.9 1078.3,905.1L1073.8,901.4Q1071.7,899.6 1069.9,897.8L1066.2,894.1Q1064.4,892.3 1061.9,891.9L1056.5,891.2Q1054.0,890.8 1052.6,892.2L1049.7,895.3Q1048.3,896.7 1046.2,897.0L1041.7,897.7Q1039.6,898.0 1038.2,899.4L1035.2,902.6Q1033.8,904.0 1030.9,904.7L1024.8,906.2Q1022.0,906.9 1020.6,904.5L1017.6,899.1Q1016.2,896.7 1014.1,895.6L1009.6,893.4Q1007.5,892.3 1004.0,891.6L996.5,890.1Q993.0,889.4 989.5,889.7L981.8,890.5Q978.3,890.8 975.2,891.5Z"/>
<path id="s-SC" fill="#effaef" d="M1055.0,746.0L1065.5,739.2Q1068.8,737.0 1072.2,736.2L1079.6,734.5Q1083.0,733.8 1088.0,734.0L1099.0,734.5Q1104.0,734.8 1106.3,736.3L1113.5,741.0L1143.8,738.0L1172.0,757.7L1166.4,763.2Q1164.6,765.0 1163.0,767.5L1159.6,772.9Q1158.0,775.4 1156.1,778.9L1151.9,786.5Q1150.0,790.0 1147.3,793.9L1141.5,802.4Q1138.8,806.2 1135.6,809.8L1125.6,821.0L1115.3,809.6Q1112.0,806.0 1109.1,803.1L1102.9,796.9Q1100.0,794.0 1097.6,791.8L1092.4,787.2Q1090.0,785.0 1087.0,782.0L1080.5,775.5Q1077.5,772.5 1075.1,769.5L1069.9,763.0Q1067.5,760.0 1065.5,758.8L1061.0,756.2Q1059.0,755.0 1058.0,752.8Z"/>
<path id="s-NC" fill="#f7fcf7" d="M1084.0,692.5L1218.8,667.4L1221.8,672.3Q1222.8,673.9 1223.6,675.1L1225.5,677.7Q1226.3,678.9 1225.7,679.1L1224.4,679.7Q1223.8,679.9 1222.6,679.9L1220.0,679.9Q1218.8,679.9 1217.8,680.6L1215.8,682.2Q1214.8,682.9 1213.8,683.6L1211.8,685.2Q1210.8,685.9 1212.0,685.5L1214.6,684.8Q1215.8,684.4 1217.2,684.5L1220.4,684.8Q1221.8,684.9 1223.2,684.3L1226.4,683.0Q1227.8,682.4 1228.5,682.6L1230.1,683.2Q1230.8,683.4 1231.3,684.2L1232.3,686.1Q1232.8,686.9 1231.8,687.4L1229.8,688.4Q1228.8,688.9 1228.9,690.1L1229.2,692.7Q1229.3,693.9 1228.7,694.5L1227.4,695.8Q1226.8,696.4 1226.2,696.5L1224.9,696.8Q1224.3,696.9 1223.9,698.1L1223.2,700.6Q1222.8,701.8 1221.8,702.5L1219.8,704.1Q1218.8,704.8 1217.7,704.9L1215.4,705.2Q1214.3,705.3 1213.6,705.1L1212.0,704.5Q1211.3,704.3 1212.0,704.9L1213.6,706.2Q1214.3,706.8 1213.8,708.7L1212.8,712.9Q1212.3,714.8 1213.1,714.9L1215.0,715.2Q1215.8,715.3 1216.4,715.8L1217.7,716.8Q1218.3,717.3 1219.4,716.2L1221.7,713.9Q1222.8,712.8 1223.2,713.2L1223.9,713.9Q1224.3,714.3 1223.7,715.6L1222.4,718.5Q1221.8,719.8 1221.1,720.9L1219.5,723.2Q1218.8,724.3 1217.8,724.8L1215.8,725.8Q1214.8,726.3 1213.1,726.5L1209.6,727.1Q1207.9,727.3 1206.2,727.9L1202.6,729.2Q1200.9,729.8 1199.5,731.0L1196.3,733.5Q1194.9,734.7 1193.9,736.1L1191.9,739.3Q1190.9,740.7 1190.3,742.4L1189.0,746.0Q1188.4,747.7 1187.9,749.4L1186.9,753.0Q1186.4,754.7 1184.8,754.9L1181.5,755.5Q1179.9,755.7 1178.0,756.2L1172.0,757.7L1143.8,738.0L1113.5,741.0L1106.3,736.3Q1104.0,734.8 1099.0,734.5L1088.0,734.0Q1083.0,733.8 1079.6,734.5L1072.2,736.2Q1068.8,737.0 1065.5,739.2L1055.0,746.0L1027.5,746.0L1027.5,740.7Q1027.5,739.0 1029.3,737.4L1033.2,734.1Q1035.0,732.5 1036.8,731.3L1040.7,728.7Q1042.5,727.5 1045.5,726.3L1052.0,723.7Q1055.0,722.5 1056.2,720.7L1058.8,716.8Q1060.0,715.0 1061.8,713.6L1065.7,710.4Q1067.5,709.0 1069.9,708.0L1075.1,706.0Q1077.5,705.0 1079.1,702.0Z"/>
<path id="s-VA" fill="#ebb9db" d="M1040.0,697.0L1057.5,680.0L1074.0,665.0L1078.6,668.8Q1080.0,670.0 1082.8,669.5L1088.9,668.5Q1091.7,668.0 1093.7,666.3L1098.0,662.7Q1100.0,661.0 1101.9,659.2L1106.1,655.3Q1108.0,653.5 1109.1,651.2L1111.4,646.3Q1112.5,644.0 1113.5,641.0L1115.7,634.7Q1116.7,631.7 1118.2,628.9L1121.5,622.8Q1123.0,620.0 1124.4,621.6L1127.6,624.9Q1129.0,626.5 1130.4,623.3L1133.6,616.2Q1135.0,613.0 1137.4,611.0L1142.6,606.5Q1145.0,604.5 1145.5,602.0L1146.5,596.5Q1147.0,594.0 1148.2,594.5L1150.8,595.5Q1152.0,596.0 1153.2,596.7L1155.8,598.3Q1157.0,599.0 1157.7,597.8L1160.0,594.0L1165.3,594.0Q1167.0,594.0 1167.5,595.2L1168.5,597.8Q1169.0,599.0 1171.4,599.5L1176.6,600.5Q1179.0,601.0 1179.2,602.4L1179.8,605.6Q1180.0,607.0 1179.3,608.9L1177.7,613.1Q1177.0,615.0 1177.5,616.2L1178.5,618.8Q1179.0,620.0 1181.2,620.5L1185.8,621.5Q1188.0,622.0 1189.7,622.7L1193.3,624.3Q1195.0,625.0 1196.0,625.8L1199.0,628.5L1202.8,631.2Q1204.0,632.0 1203.8,633.4L1203.2,636.6Q1203.0,638.0 1203.7,639.2L1205.3,641.8Q1206.0,643.0 1205.0,643.7L1203.0,645.3Q1202.0,646.0 1203.2,647.4L1205.8,650.6Q1207.0,652.0 1207.0,653.2L1206.9,655.8Q1206.9,657.0 1208.8,656.5L1212.9,655.5Q1214.8,655.0 1215.4,656.0L1216.7,658.0Q1217.3,659.0 1217.7,661.0L1218.8,667.4L1084.0,692.5ZM1218.6,629.5Q1220.0,630.0 1219.8,632.4L1219.2,637.6Q1219.0,640.0 1218.8,641.9L1218.2,646.1Q1218.0,648.0 1217.0,649.0L1215.0,651.0Q1214.0,652.0 1213.0,651.0L1211.0,649.0Q1210.0,648.0 1210.0,645.8L1210.0,641.2Q1210.0,639.0 1210.5,637.3L1211.5,633.7Q1212.0,632.0 1212.5,631.0L1213.5,629.0Q1214.0,628.0 1215.4,628.5Z"/>
<path id="s-WV" fill="#4cc14d" d="M1091.5,568.0L1097.0,593.0L1120.8,590.0L1121.7,599.5Q1122.0,602.5 1124.6,600.7L1130.4,596.8Q1133.0,595.0 1136.1,593.8L1142.9,591.2Q1146.0,590.0 1148.2,589.8L1152.8,589.2Q1155.0,589.0 1156.2,590.2L1160.0,594.0L1157.7,597.8Q1157.0,599.0 1155.8,598.3L1153.2,596.7Q1152.0,596.0 1150.8,595.5L1148.2,594.5Q1147.0,594.0 1146.5,596.5L1145.5,602.0Q1145.0,604.5 1142.6,606.5L1137.4,611.0Q1135.0,613.0 1133.6,616.2L1130.4,623.3Q1129.0,626.5 1127.6,624.9L1124.4,621.6Q1123.0,620.0 1121.5,622.8L1118.2,628.9Q1116.7,631.7 1115.7,634.7L1113.5,641.0Q1112.5,644.0 1111.4,646.3L1109.1,651.2Q1108.0,653.5 1106.1,655.3L1101.9,659.2Q1100.0,661.0 1098.0,662.7L1093.7,666.3Q1091.7,668.0 1088.9,668.5L1082.8,669.5Q1080.0,670.0 1078.6,668.8L1074.0,665.0L1069.1,660.4Q1067.5,659.0 1065.5,656.8L1061.0,652.2Q1059.0,650.0 1058.3,647.8L1056.0,641.0L1060.9,635.7Q1062.5,634.0 1063.5,630.9L1065.7,624.1Q1066.7,621.0 1068.9,618.4L1073.8,612.6Q1076.0,610.0 1077.7,607.6L1081.3,602.4Q1083.0,600.0 1084.6,597.4L1088.0,591.6Q1089.6,589.0 1090.1,584.0Z"/>
<path id="s-PA" fill="#fafdfa" d="M1087.5,526.5L1101.0,519.0L1101.0,524.0L1205.0,507.5L1208.8,517.0Q1210.0,520.0 1210.6,521.0L1212.5,524.0L1208.7,536.2Q1207.5,540.0 1208.3,541.4L1210.2,544.6Q1211.0,546.0 1213.2,548.8L1217.8,554.7Q1220.0,557.5 1218.2,559.3L1214.3,563.2Q1212.5,565.0 1211.7,566.2L1209.0,570.0L1206.0,570.4Q1205.0,570.5 1204.3,571.1L1202.0,573.0L1120.8,590.0L1097.0,593.0L1091.5,568.0Z"/>
<path id="s-NY" fill="#dc85bf" d="M1101.0,519.0L1117.0,499.0L1112.4,489.9Q1111.0,487.0 1114.4,485.0L1121.6,480.5Q1125.0,478.5 1129.8,477.9L1140.2,476.6Q1145.0,476.0 1147.4,474.6L1152.6,471.4Q1155.0,470.0 1157.4,468.8L1162.6,466.2Q1165.0,465.0 1166.4,462.8L1169.6,458.2Q1171.0,456.0 1169.6,454.0L1166.4,449.5Q1165.0,447.5 1166.2,445.7L1168.8,441.8Q1170.0,440.0 1171.8,437.0L1175.7,430.5Q1177.5,427.5 1180.5,425.1L1187.0,419.9Q1190.0,417.5 1193.6,416.3L1201.4,413.7Q1205.0,412.5 1208.4,412.1L1219.0,411.0L1222.8,425.4Q1224.0,430.0 1224.2,434.2L1224.8,443.3Q1225.0,447.5 1226.4,449.3L1229.6,453.2Q1231.0,455.0 1232.1,459.7L1235.5,474.5L1236.5,494.5L1240.0,523.0L1240.0,528.0L1237.7,530.3Q1237.0,531.0 1235.9,532.2L1232.5,536.0L1212.5,524.0L1210.6,521.0Q1210.0,520.0 1208.8,517.0L1205.0,507.5L1101.0,524.0ZM1237.9,533.2Q1238.5,532.5 1240.1,531.1L1243.4,527.9Q1245.0,526.5 1246.7,526.0L1250.3,525.0Q1252.0,524.5 1253.9,523.5L1258.1,521.5Q1260.0,520.5 1262.4,519.7L1267.6,517.8Q1270.0,517.0 1271.0,517.5L1273.0,518.5Q1274.0,519.0 1271.6,520.7L1266.4,524.3Q1264.0,526.0 1262.1,527.4L1257.9,530.6Q1256.0,532.0 1254.1,533.0L1249.9,535.0Q1248.0,536.0 1246.1,536.6L1241.9,537.9Q1240.0,538.5 1238.9,538.6L1236.6,538.9Q1235.5,539.0 1235.6,538.2L1235.9,536.3Q1236.0,535.5 1236.6,534.8Z"/>
<path id="s-NJ" fill="#d56fb4" d="M1212.5,524.0L1232.5,536.0L1230.6,540.9Q1230.0,542.5 1231.2,543.3L1233.8,545.2Q1235.0,546.0 1236.0,548.8L1238.0,554.7Q1239.0,557.5 1238.5,561.0L1237.5,568.5Q1237.0,572.0 1236.3,573.4L1234.7,576.6Q1234.0,578.0 1233.0,579.7L1231.0,583.3Q1230.0,585.0 1229.8,586.7L1229.2,590.3Q1229.0,592.0 1227.9,592.1L1225.6,592.4Q1224.5,592.5 1224.1,591.1L1223.4,587.9Q1223.0,586.5 1221.3,586.0L1217.7,585.0Q1216.0,584.5 1214.8,583.7L1212.2,581.8Q1211.0,581.0 1210.3,579.8L1208.7,577.2Q1208.0,576.0 1208.2,574.6L1209.0,570.0L1211.7,566.2Q1212.5,565.0 1214.3,563.2L1218.2,559.3Q1220.0,557.5 1217.8,554.7L1213.2,548.8Q1211.0,546.0 1210.2,544.6L1208.3,541.4Q1207.5,540.0 1208.7,536.2Z"/>
<path id="s-MD" fill="#dc87c0" d="M1120.8,590.0L1202.0,573.0L1211.5,610.0L1224.0,607.0L1225.5,613.8Q1226.0,616.0 1225.5,617.9L1224.5,622.1Q1224.0,624.0 1223.0,625.4L1221.0,628.6Q1220.0,630.0 1218.6,629.5L1215.4,628.5Q1214.0,628.0 1213.5,627.0L1212.5,625.0Q1212.0,624.0 1210.6,622.8L1207.4,620.2Q1206.0,619.0 1204.6,618.0L1201.4,616.0Q1200.0,615.0 1199.3,613.1L1197.7,608.9Q1197.0,607.0 1197.5,604.8L1198.5,600.2Q1199.0,598.0 1198.3,596.8L1196.7,594.2Q1196.0,593.0 1196.5,591.1L1197.5,586.9Q1198.0,585.0 1196.6,586.2L1193.4,588.8Q1192.0,590.0 1191.5,592.4L1190.5,597.6Q1190.0,600.0 1190.5,601.9L1191.5,606.1Q1192.0,608.0 1193.0,609.9L1195.0,614.1Q1196.0,616.0 1196.7,619.0L1199.0,628.5L1196.0,625.8Q1195.0,625.0 1193.3,624.3L1189.7,622.7Q1188.0,622.0 1185.8,621.5L1181.2,620.5Q1179.0,620.0 1178.5,618.8L1177.5,616.2Q1177.0,615.0 1177.7,613.1L1179.3,608.9Q1180.0,607.0 1179.8,605.6L1179.2,602.4Q1179.0,601.0 1176.6,600.5L1171.4,599.5Q1169.0,599.0 1168.5,597.8L1167.5,595.2Q1167.0,594.0 1165.3,594.0L1160.0,594.0L1156.2,590.2Q1155.0,589.0 1152.8,589.2L1148.2,589.8Q1146.0,590.0 1142.9,591.2L1136.1,593.8Q1133.0,595.0 1130.4,596.8L1124.6,600.7Q1122.0,602.5 1121.7,599.5Z"/>
<path id="s-DE" fill="#eef9ee" d="M1202.0,573.0L1204.3,571.1Q1205.0,570.5 1206.0,570.4L1209.0,570.0L1207.5,573.8Q1207.0,575.0 1207.6,576.7L1208.9,580.3Q1209.5,582.0 1210.6,583.2L1212.9,585.8Q1214.0,587.0 1215.2,588.9L1217.8,593.1Q1219.0,595.0 1220.2,596.7L1222.8,600.3Q1224.0,602.0 1224.1,603.0L1224.5,606.0L1224.0,607.0L1211.5,610.0Z"/>
<path id="s-VT" fill="#5cc75e" d="M1219.0,411.0L1254.8,399.6L1255.9,405.5Q1256.2,407.3 1255.7,409.7L1254.6,414.8Q1254.1,417.2 1253.1,418.9L1250.9,422.6Q1249.9,424.3 1250.1,428.4L1250.4,437.1Q1250.6,441.2 1250.7,444.5L1250.9,451.7Q1251.0,455.0 1251.1,458.4L1251.5,469.0L1235.5,474.5L1232.1,459.7Q1231.0,455.0 1229.6,453.2L1226.4,449.3Q1225.0,447.5 1224.8,443.3L1224.2,434.2Q1224.0,430.0 1222.8,425.4Z"/>
<path id="s-NH" fill="#c8ecc9" d="M1254.8,399.6L1257.0,392.6Q1257.7,390.4 1258.5,390.4L1261.2,390.4L1275.3,441.2L1281.8,447.7Q1283.8,449.7 1284.8,450.5L1288.0,453.2L1287.0,458.5L1274.1,461.9Q1270.0,463.0 1265.6,464.4L1251.5,469.0L1251.1,458.4Q1251.0,455.0 1250.9,451.7L1250.7,444.5Q1250.6,441.2 1250.4,437.1L1250.1,428.4Q1249.9,424.3 1250.9,422.6L1253.1,418.9Q1254.1,417.2 1254.6,414.8L1255.7,409.7Q1256.2,407.3 1255.9,405.5Z"/>
<path id="s-ME" fill="#cdeecd" d="M1261.2,390.4L1266.0,388.3Q1267.5,387.6 1268.5,384.6L1270.8,377.9Q1271.8,374.9 1272.3,372.9L1273.4,368.4Q1273.9,366.4 1273.1,364.4L1271.2,359.9Q1270.4,357.9 1271.1,354.2L1272.5,346.1Q1273.2,342.4 1274.2,339.0L1276.4,331.6Q1277.4,328.2 1278.6,325.7L1281.2,320.2Q1282.4,317.7 1283.9,318.7L1287.2,320.9Q1288.7,321.9 1290.1,321.2L1293.0,319.8Q1294.4,319.1 1295.9,317.9L1299.2,315.3Q1300.7,314.1 1302.4,315.0L1306.1,316.8Q1307.8,317.7 1309.3,318.5L1312.7,320.4Q1314.2,321.2 1314.9,323.6L1316.3,328.7Q1317.0,331.1 1318.0,334.5L1320.2,341.8Q1321.2,345.2 1322.2,348.1L1324.5,354.3Q1325.5,357.2 1327.3,358.0L1331.4,359.9Q1333.2,360.7 1334.2,362.7L1336.5,367.2Q1337.5,369.2 1339.2,369.4L1342.8,369.7Q1344.5,369.9 1345.5,371.4L1347.8,374.8Q1348.8,376.3 1348.3,378.3L1347.1,382.7Q1346.6,384.7 1345.4,386.1L1342.9,389.0Q1341.7,390.4 1340.0,392.1L1336.3,395.8Q1334.6,397.5 1333.6,398.5L1331.4,400.7Q1330.4,401.7 1328.7,403.4L1325.0,407.1Q1323.3,408.8 1322.3,409.8L1320.1,412.0Q1319.1,413.0 1317.1,414.0L1312.6,416.2Q1310.6,417.2 1308.6,418.9L1304.1,422.6Q1302.1,424.3 1300.4,425.0L1296.8,426.4Q1295.1,427.1 1294.4,428.5L1293.0,431.4Q1292.3,432.8 1292.1,434.8L1291.8,439.2Q1291.6,441.2 1291.2,442.9L1290.5,446.6Q1290.1,448.3 1289.6,449.5L1288.0,453.2L1284.8,450.5Q1283.8,449.7 1281.8,447.7L1275.3,441.2Z"/>
<path id="s-MA" fill="#e9b2d7" d="M1235.5,474.5L1251.5,469.0L1265.6,464.4Q1270.0,463.0 1274.1,461.9L1287.0,458.5L1289.3,461.9Q1290.0,463.0 1289.5,464.0L1288.5,466.0Q1288.0,467.0 1287.8,468.0L1287.2,470.0Q1287.0,471.0 1287.7,472.0L1289.3,474.0Q1290.0,475.0 1291.4,475.4L1294.6,476.1Q1296.0,476.5 1297.0,477.5L1299.0,479.5Q1300.0,480.5 1301.2,480.9L1303.8,481.6Q1305.0,482.0 1306.4,481.8L1309.6,481.2Q1311.0,481.0 1312.1,481.7L1314.4,483.3Q1315.5,484.0 1315.5,485.2L1315.5,487.8Q1315.5,489.0 1314.9,489.7L1313.6,491.3Q1313.0,492.0 1311.1,492.8L1306.9,494.7Q1305.0,495.5 1303.6,495.6L1300.4,495.9Q1299.0,496.0 1298.3,495.3L1296.7,493.7Q1296.0,493.0 1295.5,493.7L1294.5,495.3Q1294.0,496.0 1293.8,496.7L1293.2,498.3Q1293.0,499.0 1292.4,499.1L1290.5,499.5L1284.0,489.2Q1282.0,486.0 1279.7,486.7L1272.5,489.0L1236.5,494.5Z"/>
<path id="s-RI" fill="#edc0de" d="M1272.5,489.0L1279.7,486.7Q1282.0,486.0 1284.0,489.2L1290.5,499.5L1284.8,502.9Q1283.0,504.0 1281.1,505.0L1275.0,508.0Z"/>
<path id="s-CT" fill="#edc2df" d="M1236.5,494.5L1272.5,489.0L1275.0,508.0L1266.6,511.8Q1264.0,513.0 1261.6,513.7L1256.4,515.3Q1254.0,516.0 1251.8,517.7L1247.2,521.3Q1245.0,523.0 1243.8,524.2L1240.0,528.0L1240.0,523.0Z"/>
<path id="s-AK" fill="#f3d7ea" stroke-width="2" d="M129.7,844.9Q128.8,842.5 131.5,842.5L137.3,842.5Q140.0,842.5 141.8,841.3L145.7,838.7Q147.5,837.5 148.7,835.7L151.3,831.8Q152.5,830.0 155.5,829.4L162.0,828.1Q165.0,827.5 167.4,826.9L172.6,825.6Q175.0,825.0 177.4,825.3L182.6,825.9Q185.0,826.2 186.2,827.7L188.8,831.0Q190.0,832.5 191.2,832.2L193.8,831.5Q195.0,831.2 196.8,832.7L200.7,836.0Q202.5,837.5 204.9,838.1L210.1,839.4Q212.5,840.0 214.9,841.2L220.1,843.8Q222.5,845.0 225.5,845.0L232.0,845.0Q235.0,845.0 236.8,846.5L240.7,849.7Q242.5,851.2 242.8,853.3L243.8,860.0L243.8,965.0L248.5,966.9Q250.0,967.5 251.2,967.2L253.8,966.5Q255.0,966.2 256.8,968.3L260.7,972.9Q262.5,975.0 264.0,976.5L267.3,979.7Q268.8,981.2 270.3,979.4L273.5,975.6Q275.0,973.8 276.2,973.8L278.8,973.8Q280.0,973.8 281.8,975.9L285.7,980.4Q287.5,982.5 289.3,984.9L293.2,990.1Q295.0,992.5 297.4,996.1L302.6,1003.9Q305.0,1007.5 307.4,1008.1L312.6,1009.4Q315.0,1010.0 316.2,1011.8L318.8,1015.7Q320.0,1017.5 320.0,1019.3L320.0,1023.2Q320.0,1025.0 318.8,1026.2L316.2,1028.8Q315.0,1030.0 313.2,1028.5L309.3,1025.3Q307.5,1023.8 306.0,1025.6L302.7,1029.4Q301.2,1031.2 299.7,1030.0L296.5,1027.4Q295.0,1026.2 294.1,1024.1L292.1,1019.6Q291.2,1017.5 290.3,1016.6L288.4,1014.7Q287.5,1013.8 285.7,1012.0L281.8,1008.0Q280.0,1006.2 278.5,1004.1L275.3,999.6Q273.8,997.5 272.9,995.4L270.9,990.9Q270.0,988.8 268.2,987.9L264.3,985.9Q262.5,985.0 260.1,982.6L254.9,977.4Q252.5,975.0 249.5,973.8L243.0,971.2Q240.0,970.0 237.0,969.4L230.5,968.1Q227.5,967.5 224.5,966.0L218.0,962.7Q215.0,961.2 213.8,960.3L211.2,958.4Q210.0,957.5 208.2,958.1L204.3,959.4Q202.5,960.0 203.1,960.9L204.4,962.9Q205.0,963.8 205.6,965.1L206.9,968.0Q207.5,969.4 204.8,969.2L198.9,968.9Q196.2,968.8 193.8,969.6L188.7,971.6Q186.2,972.5 183.8,973.7L178.7,976.3Q176.2,977.5 175.3,976.6L173.4,974.6Q172.5,973.8 173.7,972.9L176.3,970.9Q177.5,970.0 178.1,968.5L179.4,965.2Q180.0,963.8 181.2,962.0L183.8,958.0Q185.0,956.2 186.3,956.0L189.3,955.3Q190.6,955.0 189.0,954.5L185.4,953.5Q183.8,953.0 181.9,954.4L178.1,957.4Q176.2,958.8 174.4,960.5L170.6,964.5Q168.8,966.2 167.1,967.5L163.5,970.0Q161.9,971.2 162.5,973.0L163.8,977.0Q164.4,978.8 163.3,980.0L161.1,982.5Q160.0,983.8 157.6,985.2L152.4,988.5Q150.0,990.0 147.3,991.2L141.4,993.8Q138.8,995.0 136.3,996.2L131.2,998.8Q128.8,1000.0 127.0,1001.3L123.0,1004.3Q121.2,1005.6 120.3,1005.3L118.4,1004.7Q117.5,1004.4 114.5,1005.0L108.0,1006.3Q105.0,1006.9 102.0,1007.6L95.5,1009.3Q92.5,1010.0 89.5,1010.5L83.0,1011.4Q80.0,1011.9 78.9,1010.8L76.7,1008.6Q75.6,1007.5 76.7,1006.6L78.9,1004.6Q80.0,1003.8 82.1,1003.6L86.7,1003.2Q88.8,1003.0 91.5,1002.3L97.3,1000.7Q100.0,1000.0 102.4,999.4L107.6,998.1Q110.0,997.5 113.9,996.0L122.3,992.8Q126.2,991.2 128.3,989.1L132.9,984.6Q135.0,982.5 136.3,980.0L139.3,974.4Q140.6,971.9 137.8,972.5L131.6,973.8Q128.8,974.4 127.2,972.7L124.0,969.2Q122.5,967.5 120.2,967.4L115.3,967.0Q113.0,966.9 112.9,965.2L112.6,961.7Q112.5,960.0 113.4,958.8L115.3,956.2Q116.2,955.0 116.1,953.7L115.8,950.7Q115.6,949.4 113.7,949.2L109.4,948.9Q107.5,948.8 106.0,947.2L102.8,944.0Q101.2,942.5 101.0,941.6L100.3,939.7Q100.0,938.8 100.3,935.5L100.9,928.3Q101.2,925.0 102.7,922.6L106.0,917.4Q107.5,915.0 110.5,913.5L117.0,910.3Q120.0,908.8 122.4,908.2L127.6,906.8Q130.0,906.2 132.1,903.8L136.7,898.6Q138.8,896.2 136.1,896.2L130.2,896.2Q127.5,896.2 124.5,894.7L118.0,891.5Q115.0,890.0 114.1,887.0L112.1,880.5Q111.2,877.5 110.6,876.3L109.4,873.7Q108.8,872.5 110.9,872.2L115.4,871.5Q117.5,871.2 120.2,870.6L126.1,869.4Q128.8,868.8 129.7,870.3L131.6,873.5Q132.5,875.0 134.6,875.3L139.1,875.9Q141.2,876.2 140.3,873.5L138.4,867.7Q137.5,865.0 136.3,862.0L133.7,855.5Q132.5,852.5 131.6,850.1ZM80.3,887.4Q79.2,885.0 80.1,884.9L82.1,884.6Q83.0,884.5 84.7,886.1L88.3,889.6Q90.0,891.2 90.4,892.7L91.4,896.0Q91.8,897.5 91.1,897.9L89.5,898.8Q88.8,899.2 87.6,898.2L85.0,896.0Q83.8,895.0 82.7,892.6ZM85.3,938.0Q85.0,937.0 86.2,936.4L88.8,935.1Q90.0,934.5 91.3,934.9L94.2,935.8Q95.5,936.2 95.7,937.2L96.0,939.5Q96.2,940.5 95.0,941.1L92.4,942.4Q91.2,943.0 90.0,942.6L87.4,941.6Q86.2,941.2 85.9,940.2ZM154.4,991.5Q155.0,990.0 156.8,989.5L160.7,988.6Q162.5,988.1 164.0,988.6L167.2,989.5Q168.8,990.0 169.2,991.2L170.2,993.8Q170.6,995.0 169.3,995.9L166.3,997.9Q165.0,998.8 163.2,1000.0L159.3,1002.5Q157.5,1003.8 156.6,1003.3L154.7,1002.3Q153.8,1001.9 153.4,1000.5L152.8,997.6Q152.5,996.2 153.1,994.8ZM164.5,983.8Q164.0,982.5 165.0,982.1L167.0,981.2Q168.0,980.8 168.8,981.3L170.7,982.5Q171.5,983.0 171.3,984.0L170.7,986.0Q170.5,987.0 169.4,987.2L167.1,987.8Q166.0,988.0 165.5,986.7ZM40.1,1015.8Q39.4,1015.6 40.1,1014.6L41.8,1012.3Q42.5,1011.2 44.0,1010.8L47.2,1009.8Q48.8,1009.4 49.5,1009.7L51.1,1010.3Q51.9,1010.6 51.6,1011.4L50.9,1013.0Q50.6,1013.8 48.7,1014.4L44.4,1015.6Q42.5,1016.2 41.8,1016.1ZM55.1,1014.7Q54.4,1014.4 55.0,1012.6L56.3,1008.7Q56.9,1006.9 57.6,1006.9L59.3,1006.9Q60.0,1006.9 61.1,1007.9L63.3,1010.2Q64.4,1011.2 64.1,1012.1L63.4,1014.1Q63.1,1015.0 61.8,1015.1L58.8,1015.5Q57.5,1015.6 56.8,1015.3Z"/>
<path id="s-HI" fill="#bc1987" stroke-width="2" d="M340.6,932.4Q340.0,931.7 340.6,930.7L341.9,928.5Q342.5,927.5 343.3,927.2L345.0,926.6Q345.8,926.3 346.3,927.0L347.5,928.5Q348.0,929.2 347.5,930.1L346.3,932.1Q345.8,933.0 345.0,933.4L343.3,934.3Q342.5,934.7 341.9,934.0ZM354.3,925.9Q354.2,925.0 355.0,923.9L356.7,921.4Q357.5,920.3 359.0,920.2L362.2,919.8Q363.7,919.7 364.5,920.6L366.4,922.4Q367.2,923.3 367.1,924.9L366.8,928.4Q366.7,930.0 366.0,930.7L364.4,932.3Q363.7,933.0 362.3,932.7L359.4,932.0Q358.0,931.7 357.2,931.0L355.5,929.4Q354.7,928.7 354.6,927.8ZM395.4,942.4Q395.0,941.3 396.9,940.0L401.1,937.1Q403.0,935.8 403.7,936.2L405.1,937.1Q405.8,937.5 406.4,938.8L407.7,941.7Q408.3,943.0 409.5,943.9L412.1,945.8Q413.3,946.7 413.2,947.5L413.1,949.2Q413.0,950.0 412.1,950.3L410.1,951.0Q409.2,951.3 407.8,950.9L404.7,950.1Q403.3,949.7 402.4,949.6L400.6,949.3Q399.7,949.2 399.0,948.4L397.4,946.6Q396.7,945.8 396.3,944.7ZM423.7,954.2Q423.0,953.7 424.3,953.3L427.0,952.4Q428.3,952.0 430.3,951.9L434.7,951.8Q436.7,951.7 437.6,952.0L439.4,952.7Q440.3,953.0 440.0,953.6L439.5,954.7Q439.2,955.3 437.4,955.5L433.5,955.8Q431.7,956.0 430.3,955.9L427.2,955.8Q425.8,955.7 425.1,955.2ZM428.5,959.6Q428.3,958.7 429.0,958.4L430.6,957.8Q431.3,957.5 432.2,958.1L434.1,959.4Q435.0,960.0 435.4,961.0L436.3,963.2Q436.7,964.2 436.3,964.8L435.4,966.1Q435.0,966.7 434.2,966.5L432.5,966.0Q431.7,965.8 431.1,965.0L429.8,963.3Q429.2,962.5 429.0,961.6ZM440.2,958.6Q440.0,957.5 441.6,957.1L445.1,956.2Q446.7,955.8 449.1,957.0L454.3,959.6Q456.7,960.8 457.4,961.8L459.0,964.0Q459.7,965.0 458.8,965.9L456.7,967.8Q455.8,968.7 454.0,968.8L450.1,969.2Q448.3,969.3 447.3,968.7L445.2,967.3Q444.2,966.7 443.4,965.6L441.6,963.1Q440.8,962.0 440.6,960.9ZM439.6,972.0Q439.2,971.3 440.2,970.9L442.3,970.1Q443.3,969.7 444.3,970.2L446.5,971.2Q447.5,971.7 447.1,972.3L446.2,973.6Q445.8,974.2 444.6,974.2L442.0,974.2Q440.8,974.2 440.4,973.5ZM462.3,980.3Q462.5,978.3 464.3,978.5L468.2,979.0Q470.0,979.2 472.4,980.6L477.6,983.6Q480.0,985.0 481.6,987.0L485.1,991.3Q486.7,993.3 488.3,994.9L491.7,998.4Q493.3,1000.0 492.5,1001.2L490.8,1003.8Q490.0,1005.0 487.6,1006.0L482.4,1008.2Q480.0,1009.2 478.4,1010.6L474.9,1013.6Q473.3,1015.0 471.9,1015.9L468.9,1017.8Q467.5,1018.7 466.5,1018.0L464.3,1016.5Q463.3,1015.8 462.7,1014.0L461.4,1010.1Q460.8,1008.3 460.6,1006.3L460.2,1002.0Q460.0,1000.0 459.4,998.6L458.1,995.6Q457.5,994.2 458.5,992.4L460.7,988.5Q461.7,986.7 461.9,984.7Z"/>
</g>
<g fill="#c32f92" stroke="#0b3d2d" stroke-width="1.6">
<ellipse cx="167.5" cy="719.5" rx="4" ry="2.6" transform="rotate(35 167.5 719.5)"/>
<ellipse cx="175.5" cy="721" rx="4" ry="2.6" transform="rotate(35 175.5 721)"/>
<ellipse cx="201" cy="746.5" rx="3" ry="5.5" transform="rotate(-20 201 746.5)"/>
<ellipse cx="198" cy="760.5" rx="2.6" ry="5.2" transform="rotate(-20 198 760.5)"/>
</g>
<g fill="#f9f0e3" stroke="#0b3d2d" stroke-width="1.6">
<ellipse cx="900" cy="900" rx="6.6" ry="3.2" transform="rotate(8 900 900)"/>
<path d="M908.5,906.5 L911.5,903.5 L912.5,908 Z"/>
<ellipse cx="852.9" cy="920.9" rx="5.2" ry="3" transform="rotate(38 852.9 920.9)"/>
</g>
<g stroke="#0b3d2d" stroke-width="1.6">
<path fill="#d0efd0" d="M967.7,447.9 L970.6,457 Q968,458.6 965.9,458.2 L964.8,454.9 Z" stroke-width="1.3"/>
<path fill="#d0efd0" d="M883.8,376.3 890,370 898.8,365 900.5,367.5 895,375 887.5,378.8Z"/>
<ellipse fill="#d0efd0" cx="1003" cy="420" rx="4.5" ry="3.3" transform="rotate(-15 1003 420)"/>
<ellipse fill="#cdeecd" cx="1326.2" cy="401.2" rx="3.1" ry="3.3"/>
<ellipse fill="#cdeecd" cx="1316.3" cy="409.5" rx="2.2" ry="3.4"/>
<ellipse fill="#0b3d2d" cx="1302" cy="499.8" rx="3" ry="1.3" transform="rotate(-20 1302 499.8)"/>
<ellipse fill="#0b3d2d" cx="1312.5" cy="498" rx="3" ry="1.3" transform="rotate(-20 1312.5 498)"/>
<path fill="#b6027b" d="M1175.6,1007.8 Q1176.5,1010 1174.8,1014 Q1173,1019 1170.6,1023.1 Q1167,1028 1163.1,1031.4 Q1160,1034.5 1156.5,1036.4 Q1153.5,1037.6 1152.3,1036.4 Q1150.8,1034.5 1151.9,1033.1 Q1155,1031 1158.1,1028.9 Q1162,1026.5 1165.6,1023.1 Q1168.5,1019 1170.6,1014 Q1172,1010.5 1173.1,1008.2 Q1174.5,1006.5 1175.6,1007.8Z"/>
<path fill="#b6027b" d="M1144,1033.5 Q1147,1035 1148.2,1037.2 Q1149,1039.3 1147.8,1040.1 Q1144.5,1041.5 1141.5,1042.2 Q1138.5,1042.8 1135.7,1043 Q1134.6,1042.4 1135.3,1041.4 Q1137.5,1039 1139.9,1036.8 Q1142,1034.5 1144,1033.5Z"/>
<path fill="#0b3d2d" d="M1199,584.5 Q1192,585 1190.5,591 Q1193,588.5 1195,589.5 Q1195,587 1199,584.5Z" stroke-width="1.2"/>
<path fill="#f9f0e3" d="M142.1,595.1 L144.2,590 Q146.4,589 146.7,592.1 L147.4,602.6 Z" stroke-width="1.3"/>
<path fill="none" d="M1299,478 Q1304,474.5 1309,475.5 Q1314,477 1314,482 Q1312,487 1306,487 Q1301,486.5 1299.5,484" stroke-width="2.2"/>
<path fill="#f7fcf7" d="M1233.3,688.4 Q1237,690 1238.8,692.9 Q1240,695.5 1239.3,697.9 Q1238,701 1235.8,703.8 Q1233,706.5 1229.8,708.3 L1225.3,710.8 Q1223.5,710 1224.3,708.8 L1228.8,705.3 Q1231.5,704 1233.3,702.3 Q1234.5,700 1234.3,697.9 L1233.8,692.9 Z" stroke-width="2"/>
<path fill="#e093c7" d="M718,978 733,963 735,966 722,981Z"/>
</g>
<g stroke="#f9f0e3" stroke-width="4.6" stroke-linecap="round" opacity="0.9">
<line x1="1200.5" y1="402.2" x2="1239" y2="442"/>
<line x1="1263.6" y1="445.5" x2="1307" y2="445.5"/>
<line x1="1271" y1="481" x2="1328" y2="481"/>
<line x1="1279" y1="500" x2="1305" y2="526"/>
<line x1="1254.6" y1="509" x2="1293.7" y2="549"/>
<line x1="1230" y1="568.8" x2="1252" y2="568.8"/>
<line x1="1214.7" y1="598" x2="1249.4" y2="598"/>
<line x1="1186.5" y1="591.5" x2="1232" y2="637.5"/>
<line x1="1180" y1="604.5" x2="1236" y2="659.7"/>
</g>
<g stroke="#0b3d2d" stroke-width="1.9" stroke-linecap="butt">
<line x1="1200.5" y1="402.2" x2="1239" y2="442"/>
<line x1="1263.6" y1="445.5" x2="1307" y2="445.5"/>
<line x1="1271" y1="481" x2="1328" y2="481"/>
<line x1="1279" y1="500" x2="1305" y2="526"/>
<line x1="1254.6" y1="509" x2="1293.7" y2="549"/>
<line x1="1230" y1="568.8" x2="1252" y2="568.8"/>
<line x1="1214.7" y1="598" x2="1249.4" y2="598"/>
<line x1="1186.5" y1="591.5" x2="1232" y2="637.5"/>
<line x1="1180" y1="604.5" x2="1236" y2="659.7"/>
</g>
<g class="lab" text-anchor="middle" stroke="#f9f0e3" stroke-linejoin="round" paint-order="stroke fill">
<text class="ab" transform="translate(260,329.2) scale(1.1,1)" stroke-width="5.4">WA</text>
<text class="va" x="260" y="345.8" stroke-width="5.4">-3.0%</text>
<text class="ab" transform="translate(230,430.2) scale(1.1,1)" stroke-width="5.4">OR</text>
<text class="va" x="230" y="446.8" stroke-width="5.4" textLength="36.3" lengthAdjust="spacingAndGlyphs">+8.1%</text>
<text class="ab" transform="translate(361,454.2) scale(1.1,1)" stroke-width="5.4">ID</text>
<text class="va" x="361" y="470.8" stroke-width="5.4" textLength="36.3" lengthAdjust="spacingAndGlyphs">+7.1%</text>
<text class="ab" transform="translate(471,388.2) scale(1.1,1)" stroke-width="5.4">MT</text>
<text class="va" x="471" y="404.8" stroke-width="5.4" textLength="43.9" lengthAdjust="spacingAndGlyphs">+21.9%</text>
<text class="ab" transform="translate(498,508.2) scale(1.1,1)" stroke-width="5.4">WY</text>
<text class="va" x="498" y="525.8" stroke-width="5.4">+38.4%</text>
<text class="ab" transform="translate(186,613.2) scale(1.1,1)" stroke-width="5.4">CA</text>
<text class="va" x="186" y="630.8" stroke-width="5.4">-29.2%</text>
<text class="ab" transform="translate(278,580.2) scale(1.1,1)" stroke-width="5.4">NV</text>
<text class="va" x="278" y="597.8" stroke-width="5.4" textLength="40.5" lengthAdjust="spacingAndGlyphs">-15.2%</text>
<text class="ab" transform="translate(393,605.2) scale(1.1,1)" stroke-width="5.4">UT</text>
<text class="va" x="393" y="622.8" stroke-width="5.4" textLength="43.9" lengthAdjust="spacingAndGlyphs">+13.3%</text>
<text class="ab" transform="translate(529,630.2) scale(1.1,1)" stroke-width="5.4">CO</text>
<text class="va" x="529" y="646.8" stroke-width="5.4" textLength="43.9" lengthAdjust="spacingAndGlyphs">+20.1%</text>
<text class="ab" transform="translate(364,745.2) scale(1.1,1)" stroke-width="5.4">AZ</text>
<text class="va" x="364" y="761.8" stroke-width="5.4">+3.8%</text>
<text class="ab" transform="translate(502,758.2) scale(1.1,1)" stroke-width="5.4">NM</text>
<text class="va" x="502" y="775.8" stroke-width="5.4">+0.4%</text>
<text class="ab" transform="translate(660,390.2) scale(1.1,1)" stroke-width="5.4">ND</text>
<text class="va" x="660" y="407.8" stroke-width="5.4">+68.2%</text>
<text class="ab" transform="translate(657,475.2) scale(1.1,1)" stroke-width="5.4">SD</text>
<text class="va" x="657" y="491.8" stroke-width="5.4">+67.6%</text>
<text class="ab" transform="translate(667,568.2) scale(1.1,1)" stroke-width="5.4">NE</text>
<text class="va" x="667" y="584.8" stroke-width="5.4" textLength="41.3" lengthAdjust="spacingAndGlyphs">+31.1%</text>
<text class="ab" transform="translate(695,653.2) scale(1.1,1)" stroke-width="5.4">KS</text>
<text class="va" x="695" y="669.8" stroke-width="5.4">+39.7%</text>
<text class="ab" transform="translate(712,743.2) scale(1.1,1)" stroke-width="5.4">OK</text>
<text class="va" x="712" y="759.8" stroke-width="5.4">+32.9%</text>
<text class="ab" transform="translate(672,871.2) scale(1.1,1)" stroke-width="5.4">TX</text>
<text class="va" x="672" y="888.8" stroke-width="5.4">-8.0%</text>
<text class="ab" transform="translate(780,427.2) scale(1.1,1)" stroke-width="5.4">MN</text>
<text class="va" x="780" y="443.8" stroke-width="5.4">+45.6%</text>
<text class="ab" transform="translate(806,550.2) scale(1.1,1)" stroke-width="5.4">IA</text>
<text class="va" x="806" y="566.8" stroke-width="5.4">+55.6%</text>
<text class="ab" transform="translate(828,661.2) scale(1.1,1)" stroke-width="5.4">MO</text>
<text class="va" x="828" y="677.8" stroke-width="5.4" textLength="43.9" lengthAdjust="spacingAndGlyphs">+30.1%</text>
<text class="ab" transform="translate(832,763.2) scale(1.1,1)" stroke-width="5.4">AR</text>
<text class="va" x="832" y="779.8" stroke-width="5.4">+45.6%</text>
<text class="ab" transform="translate(838,870.2) scale(1.1,1)" stroke-width="5.4">LA</text>
<text class="va" x="838" y="886.8" stroke-width="5.4">-7.0%</text>
<text class="ab" transform="translate(880,474.2) scale(1.1,1)" stroke-width="5.4">WI</text>
<text class="va" x="880" y="490.8" stroke-width="5.4">+66.8%</text>
<text class="ab" transform="translate(898,603.2) scale(1.1,1)" stroke-width="5.4">IL</text>
<text class="va" x="898" y="619.8" stroke-width="5.4">+3.2%</text>
<text class="ab" transform="translate(991.3,500.4) scale(1.1,1)" stroke-width="5.4">MI</text>
<text class="va" x="991.3" y="516.8" stroke-width="5.4">+25.0%</text>
<text class="ab" transform="translate(968,598.2) scale(1.1,1)" stroke-width="5.4">IN</text>
<text class="va" x="968" y="614.8" stroke-width="5.4">+32.6%</text>
<text class="ab" transform="translate(1040,585.2) scale(1.1,1)" stroke-width="5.4">OH</text>
<text class="va" x="1040" y="601.8" stroke-width="5.4">+30.7%</text>
<text class="ab" transform="translate(1006,669.2) scale(1.1,1)" stroke-width="5.4">KY</text>
<text class="va" x="1006" y="685.8" stroke-width="5.4">+38.7%</text>
<text class="ab" transform="translate(972,725.2) scale(1.1,1)" stroke-width="5.4">TN</text>
<text class="va" x="972" y="742.8" stroke-width="5.4">+24.2%</text>
<text class="ab" transform="translate(905,818.2) scale(1.1,1)" stroke-width="5.4">MS</text>
<text class="va" x="905" y="834.8" stroke-width="5.4">+49.7%</text>
<text class="ab" transform="translate(975,816.2) scale(1.1,1)" stroke-width="5.4">AL</text>
<text class="va" x="975" y="832.8" stroke-width="5.4">+5.6%</text>
<text class="ab" transform="translate(1061,812.2) scale(1.1,1)" stroke-width="5.4">GA</text>
<text class="va" x="1061" y="828.8" stroke-width="5.4">-9.5%</text>
<text class="ab" transform="translate(1128,941.2) scale(1.1,1)" stroke-width="5.4">FL</text>
<text class="va" x="1128" y="957.8" stroke-width="5.4">-38.6%</text>
<text class="ab" transform="translate(1121,767.2) scale(1.1,1)" stroke-width="5.4">SC</text>
<text class="va" x="1121" y="783.8" stroke-width="5.4" textLength="41.3" lengthAdjust="spacingAndGlyphs">+18.1%</text>
<text class="ab" transform="translate(1143,707.2) scale(1.1,1)" stroke-width="5.4">NC</text>
<text class="va" x="1143" y="723.8" stroke-width="5.4" textLength="43.9" lengthAdjust="spacingAndGlyphs">+16.4%</text>
<text class="ab" transform="translate(1155,641.2) scale(1.1,1)" stroke-width="5.4">VA</text>
<text class="va" x="1155" y="657.8" stroke-width="5.4" textLength="32.9" lengthAdjust="spacingAndGlyphs">-0.1%</text>
<text class="ab" transform="translate(1090,625.2) scale(1.1,1)" stroke-width="5.4">WV</text>
<text class="va" x="1090" y="641.8" stroke-width="5.4">+54.0%</text>
<text class="ab" transform="translate(1151,547.2) scale(1.1,1)" stroke-width="5.4">PA</text>
<text class="va" x="1151" y="563.8" stroke-width="5.4" textLength="43.9" lengthAdjust="spacingAndGlyphs">+15.8%</text>
<text class="ab" transform="translate(1191,472.2) scale(1.1,1)" stroke-width="5.4">NY</text>
<text class="va" x="1191" y="488.8" stroke-width="5.4" textLength="37.9" lengthAdjust="spacingAndGlyphs">-11.0%</text>
<text class="ab" transform="translate(1300.4,375.2) scale(1.1,1)" stroke-width="5.4">ME</text>
<text class="va" x="1300.4" y="392.8" stroke-width="5.4">+25.6%</text>
<text class="ab" transform="translate(180,910.7) scale(1.1,1)" stroke-width="5.4">AK</text>
<text class="va" x="180" y="926.8" stroke-width="5.4">+6.2%</text>
<text class="ab" transform="translate(412,975.2) scale(1.1,1)" stroke-width="0">HI</text>
<text class="va" x="412" y="991.8" stroke-width="0">-33.7%</text>
</g>
<g class="lab" text-anchor="start">
<text class="ab" transform="translate(1154.6,396.3) scale(1.14,1)">VT</text>
<text class="va2" x="1182.5" y="394.8" textLength="47.8" lengthAdjust="spacingAndGlyphs">+50.3%</text>
<text class="ab" transform="translate(1313.7,450.4) scale(1.14,1)">NH</text>
<text class="va2" x="1345" y="448.9" textLength="46.4" lengthAdjust="spacingAndGlyphs">+26.6%</text>
<text class="ab" transform="translate(1332.7,486.1) scale(1.14,1)">MA</text>
<text class="va2" x="1366" y="484.6" textLength="32.8" lengthAdjust="spacingAndGlyphs">-1.5%</text>
<text class="ab" transform="translate(1310.1,531.6) scale(1.14,1)">RI</text>
<text class="va2" x="1332" y="530.1" textLength="35.4" lengthAdjust="spacingAndGlyphs">+1.3%</text>
<text class="ab" transform="translate(1297.5,557.3) scale(1.14,1)">CT</text>
<text class="va2" x="1326" y="555.8" textLength="34.2" lengthAdjust="spacingAndGlyphs">+1.7%</text>
<text class="ab" transform="translate(1258.8,574.6) scale(1.14,1)">NJ</text>
<text class="va2" x="1288" y="573.1" textLength="40.3" lengthAdjust="spacingAndGlyphs">-15.7%</text>
<text class="ab" transform="translate(1255,603.6) scale(1.14,1)">DE</text>
<text class="va2" x="1284" y="602.1" textLength="43.8" lengthAdjust="spacingAndGlyphs">+18.3%</text>
<text class="ab" transform="translate(1238.8,647.4) scale(1.14,1)">MD</text>
<text class="va2" x="1273" y="645.9" textLength="41.8" lengthAdjust="spacingAndGlyphs">-10.6%</text>
<text class="ab" transform="translate(1243.4,667.6) scale(1.14,1)">DC</text>
<text class="va2" x="1274.7" y="666.1" textLength="38.1" lengthAdjust="spacingAndGlyphs">-27.1%</text>
</g>
<g>
<path fill="#0aad0a" d="M1332.2,1120.8 H1348.3 V1148.6 L1357.6,1137.4 A9.3,9.3 0 1 1 1370.5,1150.6 L1340.2,1170.5 L1310,1150.6 A9.3,9.3 0 1 1 1322.9,1137.4 L1332.2,1148.6Z"/>
<circle cx="1340.2" cy="1204" r="29.3" fill="#ff7009"/>
</g>
</svg>
<h1 class="t" id="title"><span style="left:224.0px;transform:scaleX(0.9879)">The </span><span style="left:428.2px;transform:scaleX(0.9603)">Great </span><span style="left:723.5px;transform:scaleX(0.8770)">Dill </span><span style="left:904.5px;transform:scaleX(0.9936)">Divide</span></h1>
<div class="t sub" id="sub">Pickle passion: who’s piling them on, and who’s passing?</div>
<div class="t leg" id="leg1" style="left:395.5px">Fewer pickle orders</div>
<div class="bar"></div>
<div class="t leg" id="leg2" style="left:857.5px;transform:scaleX(1.135)">More pickle orders</div>
<div class="t foot" id="f1" style="top:1112px;transform:scaleX(1.0824)">Instacart calculated the percentage difference between the order rate of pickles on the Instacart platform by state and the</div>
<div class="t foot" id="f2" style="top:1136px;transform:scaleX(1.0655)">United States overall between July 2024 and June 2025. Data from select retailers removed from certain states as legally</div>
<div class="t foot" id="f3" style="top:1160px;transform:scaleX(1.09)">required.</div>
</div>
</body></html>
